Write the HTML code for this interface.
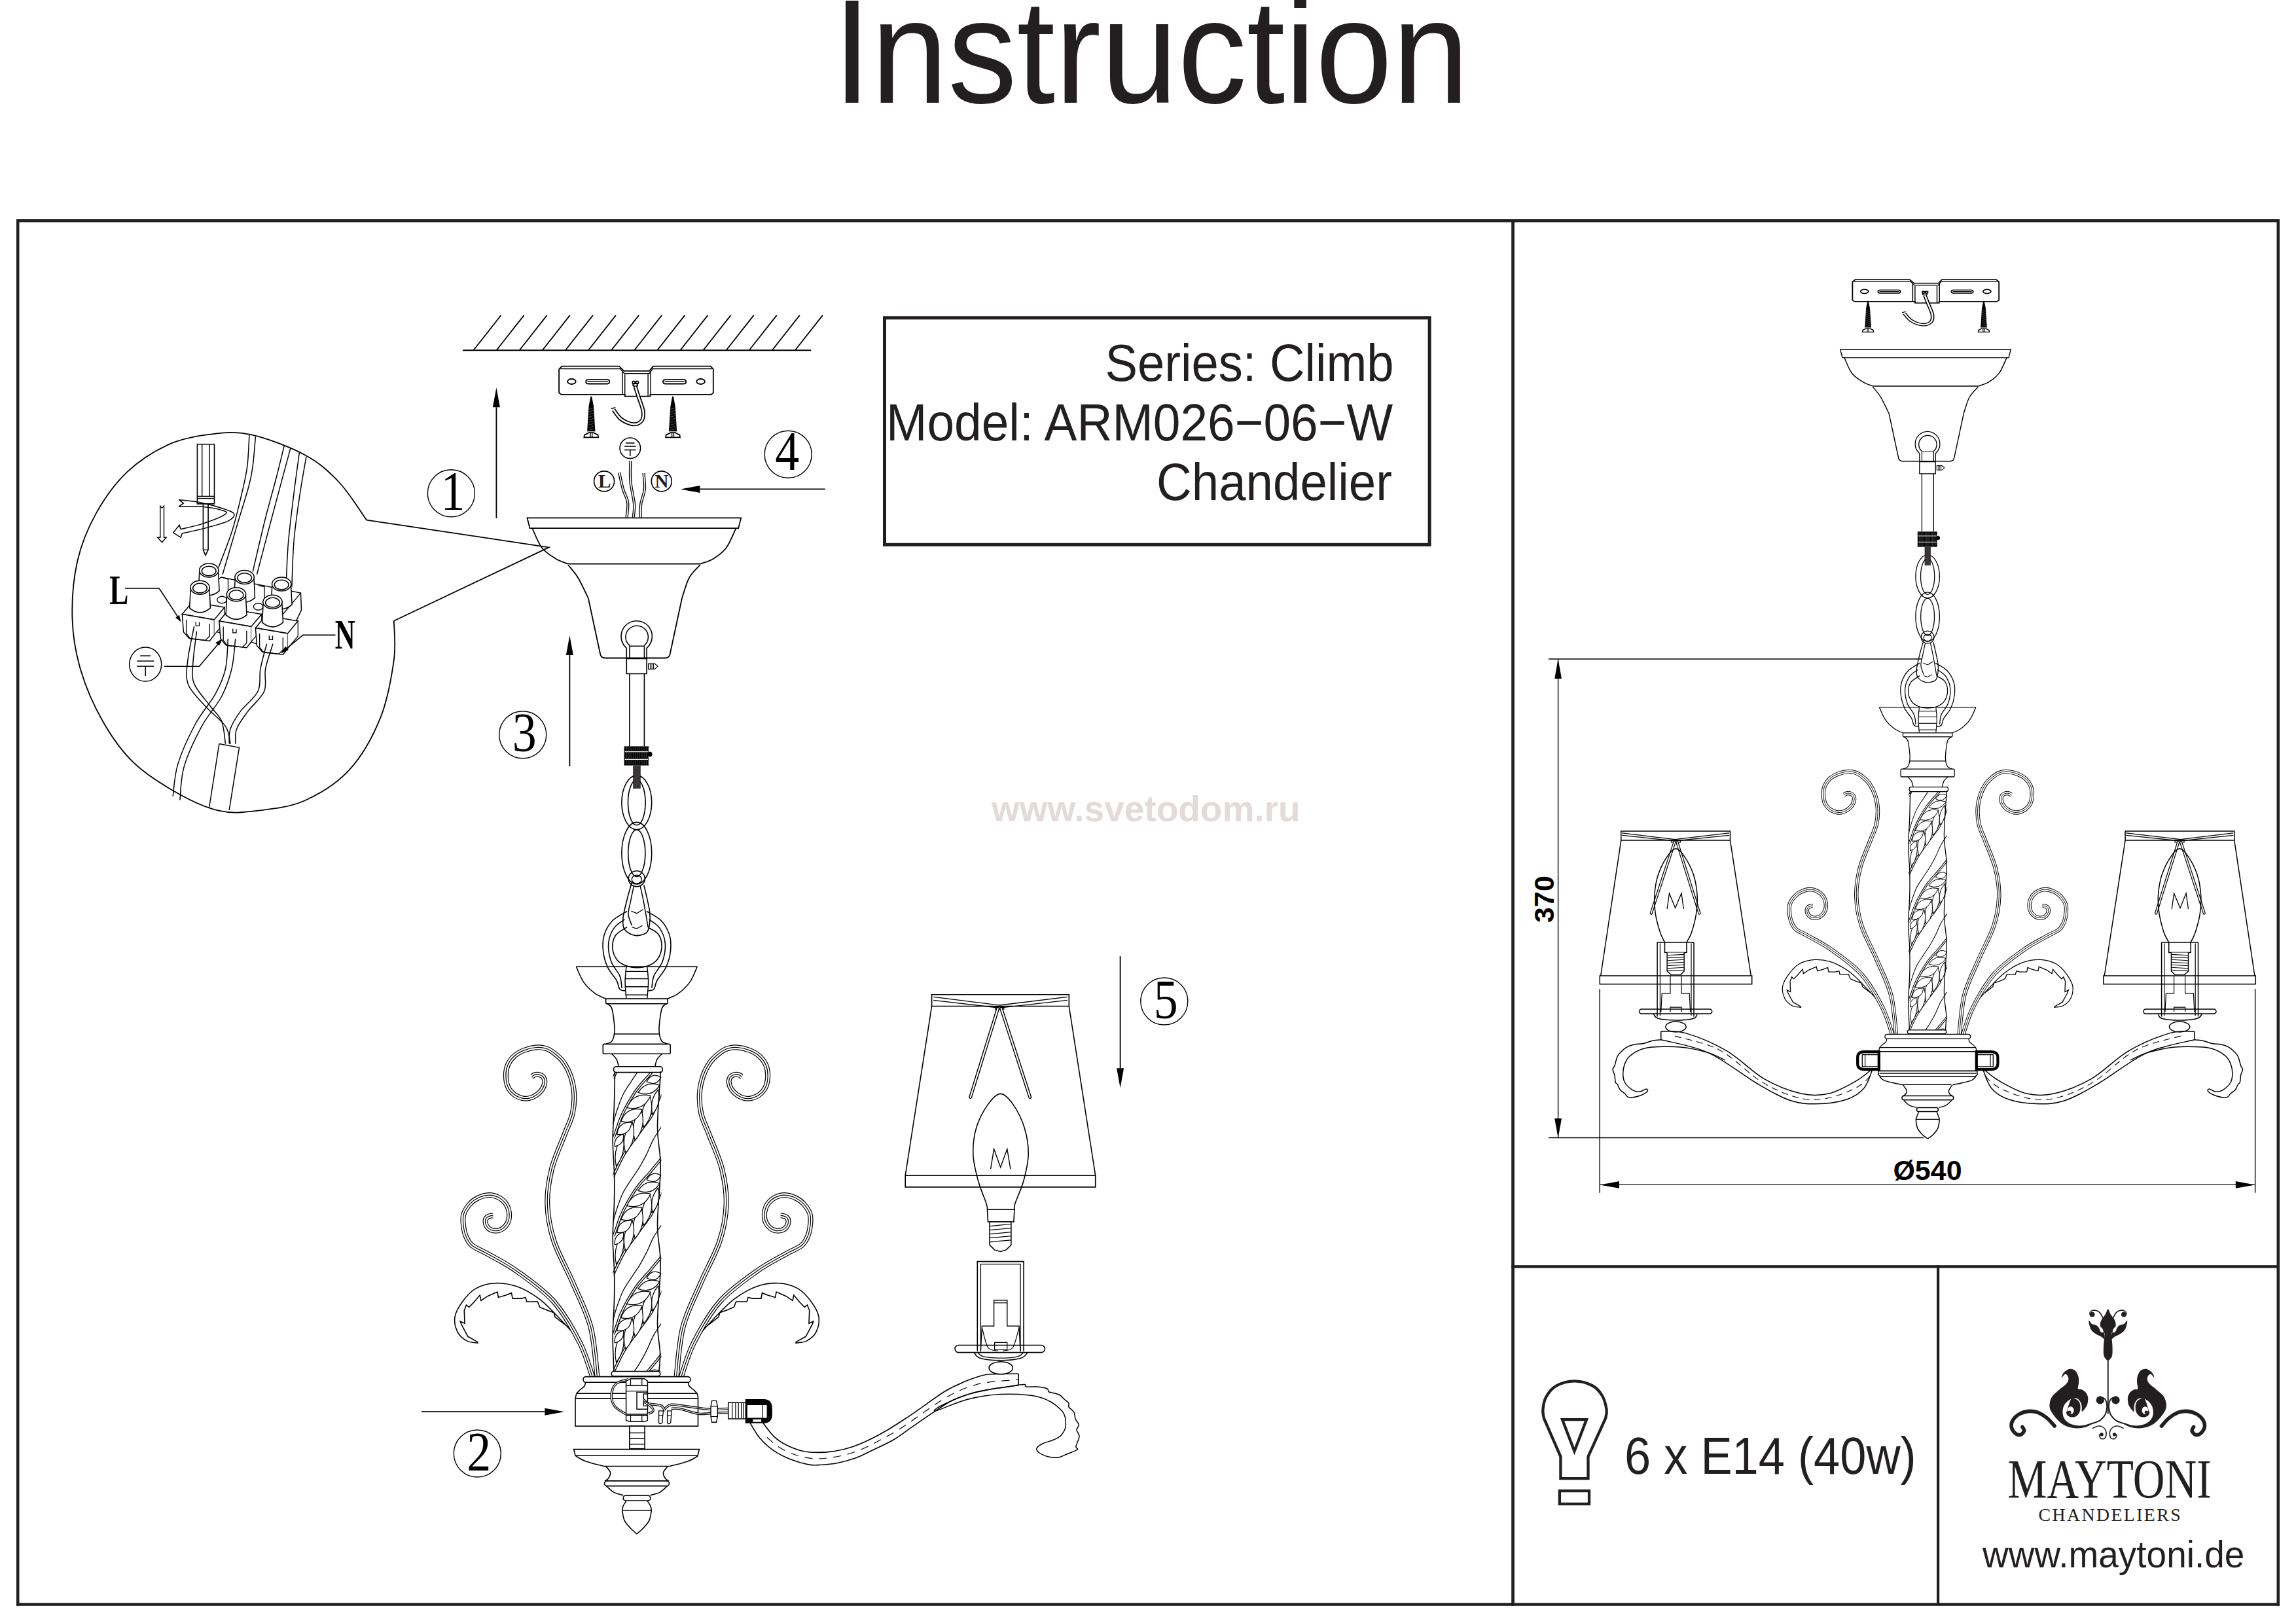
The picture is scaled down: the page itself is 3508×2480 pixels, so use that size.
<!DOCTYPE html>
<html><head><meta charset="utf-8">
<style>
html,body{margin:0;padding:0;background:#fff;}
body{width:3508px;height:2480px;overflow:hidden;position:relative;}
svg{position:absolute;left:0;top:0;display:block;}
text{font-family:"Liberation Sans",sans-serif;fill:#231f20;}
.sf{font-family:"Liberation Serif",serif;}
</style></head>
<body>
<svg width="3508" height="2480" viewBox="0 0 3508 2480">
<defs><g id="core"><path d="M805.5,791.4 L1132.2,791.4 L1128.2,807.1 L809.5,807.1Z" fill="#fff" stroke="#000" stroke-width="1.8" /><path d="M813.2,807.1 C815.7,812.1 821.9,829.2 827.9,837 C833.9,844.8 842.8,849.8 849.5,853.9 C856.2,858.0 864.9,860.3 868,861.6 L1069.7,861.6 " fill="none" stroke="#000" stroke-width="1.8" /><path d="M1069.7,861.6 C1073.0,860.3 1083.0,858.0 1089.7,853.9 C1096.4,849.8 1103.9,844.8 1109.7,837 C1115.5,829.2 1122.0,812.1 1124.5,807.1" fill="none" stroke="#000" stroke-width="1.8" /><path d="M868,863.2 C870.6,866.5 878.3,874.7 883.4,883.2 C888.5,891.7 896.2,908.9 898.8,914" fill="none" stroke="#000" stroke-width="1.8" /><path d="M898.8,914 L917.3,1000.2 Q918.8,1005.5 925,1005.5 L1015.8,1005.5 Q1022,1005.5 1023.5,1000.2 L1042,914" fill="none" stroke="#000" stroke-width="1.8" /><path d="M1042,914 C1043.8,908.9 1048.2,891.7 1052.8,883.2 C1057.4,874.7 1066.9,866.5 1069.7,863.2" fill="none" stroke="#000" stroke-width="1.8" /><path d="M957.3,1006.4 L957.3,990.4 A23.7,23.7 0 1 1 988.1,990.4 L988.1,1006.4" fill="none" stroke="#000" stroke-width="1.6"/><path d="M961.9,986.4 A17.2,17.2 0 1 1 984.4,986.4" fill="none" stroke="#000" stroke-width="1.6"/><path d="M961.9,1006.4 L961.9,987.3 L984.4,987.3 L984.4,1006.4" fill="none" stroke="#000" stroke-width="1.5" /><path d="M957.3,1006.4 L988.1,1006.4 L988.1,1029.5 L957.3,1029.5Z" fill="none" stroke="#000" stroke-width="1.6" /><path d="M990.6,1014.1 L1000.4,1014.1 L1005,1018.1 L1000.4,1022.4 L990.6,1022.4Z" fill="#fff" stroke="#000" stroke-width="1.3" /><line x1="993.6" y1="1014.1" x2="993.6" y2="1022.4" stroke="#000" stroke-width="1"/><line x1="996.1" y1="1014.1" x2="996.1" y2="1022.4" stroke="#000" stroke-width="1"/><line x1="998.6" y1="1014.1" x2="998.6" y2="1022.4" stroke="#000" stroke-width="1"/><path d="M961.9,1029.5 L961.9,1140.4" fill="none" stroke="#000" stroke-width="1.6" /><path d="M984.4,1029.5 L984.4,1140.4" fill="none" stroke="#000" stroke-width="1.6" /><rect x="953.6" y="1140.4" width="37.6" height="29.2" fill="#000"/><line x1="954.8" y1="1148.7" x2="989.9" y2="1148.7" stroke="#fff" stroke-width="1.2"/><line x1="954.8" y1="1160.4" x2="989.9" y2="1160.4" stroke="#fff" stroke-width="1.2"/><line x1="957.3" y1="1141.9" x2="957.3" y2="1168.4" stroke="#777" stroke-width="0.6"/><line x1="960.1" y1="1141.9" x2="960.1" y2="1168.4" stroke="#777" stroke-width="0.6"/><line x1="962.8" y1="1141.9" x2="962.8" y2="1168.4" stroke="#777" stroke-width="0.6"/><line x1="965.6" y1="1141.9" x2="965.6" y2="1168.4" stroke="#777" stroke-width="0.6"/><line x1="968.4" y1="1141.9" x2="968.4" y2="1168.4" stroke="#777" stroke-width="0.6"/><line x1="971.1" y1="1141.9" x2="971.1" y2="1168.4" stroke="#777" stroke-width="0.6"/><line x1="973.9" y1="1141.9" x2="973.9" y2="1168.4" stroke="#777" stroke-width="0.6"/><line x1="976.7" y1="1141.9" x2="976.7" y2="1168.4" stroke="#777" stroke-width="0.6"/><line x1="979.5" y1="1141.9" x2="979.5" y2="1168.4" stroke="#777" stroke-width="0.6"/><line x1="982.2" y1="1141.9" x2="982.2" y2="1168.4" stroke="#777" stroke-width="0.6"/><line x1="985" y1="1141.9" x2="985" y2="1168.4" stroke="#777" stroke-width="0.6"/><line x1="987.8" y1="1141.9" x2="987.8" y2="1168.4" stroke="#777" stroke-width="0.6"/><line x1="990.6" y1="1141.9" x2="990.6" y2="1168.4" stroke="#777" stroke-width="0.6"/><ellipse cx="993.2" cy="1152.5" rx="3" ry="3.5" fill="#000" stroke="#000" stroke-width="1" /><rect x="967.1" y="1169.6" width="11.7" height="35.4" fill="#3a3637"/><ellipse cx="972.8" cy="1226.3" rx="22.9233" ry="41.4099" fill="none" stroke="#000" stroke-width="1.6" /><ellipse cx="972.8" cy="1226.3" rx="13.3103" ry="34.5083" fill="none" stroke="#000" stroke-width="1.6" /><rect x="968.4" y="1180" width="9.36653" height="25" fill="#3a3637"/><ellipse cx="972.8" cy="1303.7" rx="22.9233" ry="47.3256" fill="none" stroke="#000" stroke-width="1.6" /><ellipse cx="972.8" cy="1303.7" rx="13.0638" ry="35.7407" fill="none" stroke="#000" stroke-width="1.6" /><ellipse cx="972.8" cy="1342.7" rx="12.5" ry="12" fill="none" stroke="#000" stroke-width="1.6" /><ellipse cx="972.8" cy="1343.7" rx="7.5" ry="6.5" fill="none" stroke="#000" stroke-width="1.4" /><path d="M958,1392.5 C954.3,1394.9 941.6,1400.7 935.8,1406.8 C930.0,1412.9 925.4,1421.2 923,1429 C920.6,1436.8 920.7,1445.4 921.6,1453.6 C922.5,1461.8 925.1,1470.8 928.5,1478.2 C931.9,1485.6 938.9,1492.5 942,1498 C945.1,1503.5 944.6,1508.8 946.9,1511.5 C949.2,1514.2 954.1,1513.6 955.6,1514" fill="none" stroke="#000" stroke-width="1.6" /><path d="M988,1392.5 C991.7,1394.9 1004.4,1400.7 1010.2,1406.8 C1016.0,1412.9 1020.6,1421.2 1023,1429 C1025.4,1436.8 1025.3,1445.4 1024.4,1453.6 C1023.5,1461.8 1020.9,1470.8 1017.5,1478.2 C1014.1,1485.6 1007.1,1492.5 1004,1498 C1000.9,1503.5 1001.4,1508.8 999.1,1511.5 C996.8,1514.2 991.9,1513.6 990.4,1514" fill="none" stroke="#000" stroke-width="1.6" /><path d="M954.3,1404.8 C951.6,1407.0 942.4,1411.8 938.3,1417.9 C934.2,1424.0 930.4,1432.7 929.7,1441.3 C929.0,1449.9 931.0,1461.3 933.9,1469.6 C936.8,1477.9 944.2,1484.4 946.9,1491.1 C949.6,1497.8 949.6,1506.7 950.1,1509.8" fill="none" stroke="#000" stroke-width="1.6" /><path d="M991.7,1404.8 C994.4,1407.0 1003.6,1411.8 1007.7,1417.9 C1011.8,1424.0 1015.6,1432.7 1016.3,1441.3 C1017.0,1449.9 1015.0,1461.3 1012.1,1469.6 C1009.2,1477.9 1001.8,1484.4 999.1,1491.1 C996.4,1497.8 996.4,1506.7 995.9,1509.8" fill="none" stroke="#000" stroke-width="1.6" /><path d="M958,1416.6 C955.1,1418.7 944.5,1423.7 940.8,1429 C937.1,1434.3 935.4,1442.3 935.8,1448.7 C936.2,1455.1 939.7,1462.7 943.2,1467.2 C946.7,1471.7 951.9,1473.9 956.8,1475.8 C961.7,1477.7 967.2,1478.7 972.8,1478.7 C978.3,1478.7 984.8,1477.9 990.1,1475.8 C995.4,1473.7 1000.9,1470.6 1004.4,1465.9 C1007.9,1461.2 1010.7,1453.8 1011,1447.4 C1011.3,1441.0 1009.6,1432.8 1006.1,1427.7 C1002.6,1422.7 992.8,1418.9 990.1,1417.1" fill="none" stroke="#000" stroke-width="1.6" /><path d="M965.4,1348.1 C964.2,1352.5 960.2,1365.5 958,1374.7 C955.8,1383.9 952.5,1395.5 951.9,1403.1 C951.3,1410.7 951.2,1415.9 954.3,1420.3 C957.4,1424.7 964.8,1428.6 970.4,1429.4 C976.0,1430.2 983.9,1428.2 987.6,1425.3 C991.3,1422.3 991.7,1417.2 992.5,1411.7 C993.3,1406.2 993.9,1401.9 992.5,1392 C991.1,1382.1 985.3,1359.1 983.9,1352.5" fill="none" stroke="#000" stroke-width="1.6" /><path d="M968.4,1353.8 C967.6,1357.7 964.9,1370.0 963.5,1377.2 C962.1,1384.4 959.7,1390.7 960,1396.9 C960.3,1403.1 964.5,1411.3 965.4,1414.2" fill="none" stroke="#000" stroke-width="1.5" /><path d="M978.2,1353.8 C979.0,1357.7 981.2,1366.7 983.2,1377.2 C985.2,1387.7 989.0,1410.0 990.1,1416.6" fill="none" stroke="#000" stroke-width="1.5" /><path d="M964.2,1392 L972.8,1395.7 L982.7,1389.5" fill="none" stroke="#000" stroke-width="1.3" /><path d="M965.4,1416.6 L972.8,1419.1 L981.4,1414.2" fill="none" stroke="#000" stroke-width="1.3" /><line x1="880.4" y1="1477" x2="1065.3" y2="1477" stroke="#000" stroke-width="1.6"/><path d="M880.4,1477 C882.2,1480.9 886.8,1493.6 891.5,1500.4 C896.2,1507.2 903.0,1513.4 908.7,1517.7 C914.5,1522.0 923.1,1524.9 926,1526.3" fill="none" stroke="#000" stroke-width="1.6" /><path d="M1065.3,1477 C1063.5,1480.9 1058.9,1493.6 1054.2,1500.4 C1049.5,1507.2 1042.7,1513.4 1036.9,1517.7 C1031.2,1522.0 1022.6,1524.9 1019.7,1526.3" fill="none" stroke="#000" stroke-width="1.6" /><path d="M956.8,1477.8 C956.5,1481.6 955.1,1492.5 955.1,1500.4 C955.1,1508.3 956.5,1521.0 956.8,1525.1" fill="none" stroke="#000" stroke-width="1.5" /><path d="M988.8,1477.8 C989.1,1481.6 990.6,1492.5 990.6,1500.4 C990.6,1508.3 989.1,1521.0 988.8,1525.1" fill="none" stroke="#000" stroke-width="1.5" /><line x1="955.6" y1="1484.4" x2="990.1" y2="1484.4" stroke="#000" stroke-width="1.4"/><line x1="955.6" y1="1495.5" x2="990.1" y2="1495.5" stroke="#000" stroke-width="1.4"/><line x1="955.6" y1="1507.8" x2="990.1" y2="1507.8" stroke="#000" stroke-width="1.4"/><line x1="955.6" y1="1520.2" x2="990.1" y2="1520.2" stroke="#000" stroke-width="1.4"/><path d="M889.5,2052.2 C882.9,2045.0 860.7,2020.3 849.6,2009 C838.5,1997.7 833.0,1991.3 823,1984.1 C813.0,1976.9 800.9,1969.7 789.8,1965.8 C778.7,1961.9 767.0,1960.2 756.5,1960.8 C746.0,1961.3 734.9,1964.4 726.6,1969.1 C718.3,1973.8 711.9,1981.8 706.6,1989 C701.3,1996.2 696.2,2004.5 695,2012.3 C693.8,2020.1 696.2,2029.5 699.3,2035.6 C702.3,2041.7 708.2,2046.1 713.3,2048.9 C718.4,2051.7 727.1,2051.6 729.9,2052.2 L729.9,2050.6 L714.9,2042.3 L705,2024 L703.3,2019 L710,2022.3 L709.3,2002.3 L712.6,1994 L716.6,1997.4 L723.3,1990.7 L733.2,1979.1 L734.9,1987.4 L744.9,1980.7 L759.8,1974.1 L761.5,1982.4 L773.1,1979.1 L781.5,1975.7 L783.1,1984.1 L796.4,1984.1 L803.1,1982.4 L804.7,1989 L821.4,1989 L824.7,1997.4 L836.3,2002.3 L846.3,2005.7 L848,2012.3 L869.6,2029 L889.5,2052.2" fill="#fff" stroke="#000" stroke-width="1.6" /><g transform="translate(1946,0) scale(-1,1)"><path d="M889.5,2052.2 C882.9,2045.0 860.7,2020.3 849.6,2009 C838.5,1997.7 833.0,1991.3 823,1984.1 C813.0,1976.9 800.9,1969.7 789.8,1965.8 C778.7,1961.9 767.0,1960.2 756.5,1960.8 C746.0,1961.3 734.9,1964.4 726.6,1969.1 C718.3,1973.8 711.9,1981.8 706.6,1989 C701.3,1996.2 696.2,2004.5 695,2012.3 C693.8,2020.1 696.2,2029.5 699.3,2035.6 C702.3,2041.7 708.2,2046.1 713.3,2048.9 C718.4,2051.7 727.1,2051.6 729.9,2052.2 L729.9,2050.6 L714.9,2042.3 L705,2024 L703.3,2019 L710,2022.3 L709.3,2002.3 L712.6,1994 L716.6,1997.4 L723.3,1990.7 L733.2,1979.1 L734.9,1987.4 L744.9,1980.7 L759.8,1974.1 L761.5,1982.4 L773.1,1979.1 L781.5,1975.7 L783.1,1984.1 L796.4,1984.1 L803.1,1982.4 L804.7,1989 L821.4,1989 L824.7,1997.4 L836.3,2002.3 L846.3,2005.7 L848,2012.3 L869.6,2029 L889.5,2052.2" fill="#fff" stroke="#000" stroke-width="1.6" /></g><path d="M906.2,2107.1 C902.9,2097.9 896.2,2071.9 886.2,2052.2 C876.2,2032.5 862.4,2007.3 846.3,1989 C830.2,1970.7 806.7,1954.7 789.8,1942.5 C772.9,1930.3 756.5,1922.6 745,1916 C733.5,1909.4 726.7,1907.7 721.1,1903 C715.5,1898.3 713.7,1893.5 711.5,1888 C709.3,1882.5 708.3,1875.5 707.8,1870 C707.3,1864.5 706.8,1860.1 708.5,1855 C710.2,1849.9 714.6,1843.5 718.3,1839.4 C722.0,1835.3 725.7,1832.7 730.5,1830.5 C735.3,1828.3 742.0,1826.3 747.1,1826.1 C752.2,1825.9 756.8,1827.4 761,1829.4 C765.2,1831.4 769.3,1834.7 772.1,1838.3 C774.9,1841.9 776.8,1846.7 777.6,1851.1 C778.4,1855.5 778.2,1860.9 777.1,1864.9 C776.0,1868.9 773.7,1872.3 771,1874.9 C768.3,1877.5 764.5,1879.7 761,1880.4 C757.5,1881.1 752.9,1880.5 749.9,1879.3 C746.9,1878.1 744.7,1875.6 743.3,1873.2 C741.9,1870.8 741.4,1867.1 741.6,1864.9 C741.8,1862.7 743.0,1861.1 744.4,1859.9 C745.8,1858.7 748.4,1858.1 749.9,1857.7 C751.4,1857.3 752.7,1857.7 753.2,1857.7" fill="none" stroke="#000" stroke-width="8" stroke-linejoin="round"/><path d="M906.2,2107.1 C902.9,2097.9 896.2,2071.9 886.2,2052.2 C876.2,2032.5 862.4,2007.3 846.3,1989 C830.2,1970.7 806.7,1954.7 789.8,1942.5 C772.9,1930.3 756.5,1922.6 745,1916 C733.5,1909.4 726.7,1907.7 721.1,1903 C715.5,1898.3 713.7,1893.5 711.5,1888 C709.3,1882.5 708.3,1875.5 707.8,1870 C707.3,1864.5 706.8,1860.1 708.5,1855 C710.2,1849.9 714.6,1843.5 718.3,1839.4 C722.0,1835.3 725.7,1832.7 730.5,1830.5 C735.3,1828.3 742.0,1826.3 747.1,1826.1 C752.2,1825.9 756.8,1827.4 761,1829.4 C765.2,1831.4 769.3,1834.7 772.1,1838.3 C774.9,1841.9 776.8,1846.7 777.6,1851.1 C778.4,1855.5 778.2,1860.9 777.1,1864.9 C776.0,1868.9 773.7,1872.3 771,1874.9 C768.3,1877.5 764.5,1879.7 761,1880.4 C757.5,1881.1 752.9,1880.5 749.9,1879.3 C746.9,1878.1 744.7,1875.6 743.3,1873.2 C741.9,1870.8 741.4,1867.1 741.6,1864.9 C741.8,1862.7 743.0,1861.1 744.4,1859.9 C745.8,1858.7 748.4,1858.1 749.9,1857.7 C751.4,1857.3 752.7,1857.7 753.2,1857.7" fill="none" stroke="#fff" stroke-width="5.6" stroke-linejoin="round"/><path d="M906.2,2107.1 C902.9,2097.9 896.2,2071.9 886.2,2052.2 C876.2,2032.5 862.4,2007.3 846.3,1989 C830.2,1970.7 806.7,1954.7 789.8,1942.5 C772.9,1930.3 756.5,1922.6 745,1916 C733.5,1909.4 726.7,1907.7 721.1,1903 C715.5,1898.3 713.7,1893.5 711.5,1888 C709.3,1882.5 708.3,1875.5 707.8,1870 C707.3,1864.5 706.8,1860.1 708.5,1855 C710.2,1849.9 714.6,1843.5 718.3,1839.4 C722.0,1835.3 725.7,1832.7 730.5,1830.5 C735.3,1828.3 742.0,1826.3 747.1,1826.1 C752.2,1825.9 756.8,1827.4 761,1829.4 C765.2,1831.4 769.3,1834.7 772.1,1838.3 C774.9,1841.9 776.8,1846.7 777.6,1851.1 C778.4,1855.5 778.2,1860.9 777.1,1864.9 C776.0,1868.9 773.7,1872.3 771,1874.9 C768.3,1877.5 764.5,1879.7 761,1880.4 C757.5,1881.1 752.9,1880.5 749.9,1879.3 C746.9,1878.1 744.7,1875.6 743.3,1873.2 C741.9,1870.8 741.4,1867.1 741.6,1864.9 C741.8,1862.7 743.0,1861.1 744.4,1859.9 C745.8,1858.7 748.4,1858.1 749.9,1857.7 C751.4,1857.3 752.7,1857.7 753.2,1857.7" fill="none" stroke="#000" stroke-width="1.2" stroke-linejoin="round"/><g transform="translate(1946,0) scale(-1,1)"><path d="M906.2,2107.1 C902.9,2097.9 896.2,2071.9 886.2,2052.2 C876.2,2032.5 862.4,2007.3 846.3,1989 C830.2,1970.7 806.7,1954.7 789.8,1942.5 C772.9,1930.3 756.5,1922.6 745,1916 C733.5,1909.4 726.7,1907.7 721.1,1903 C715.5,1898.3 713.7,1893.5 711.5,1888 C709.3,1882.5 708.3,1875.5 707.8,1870 C707.3,1864.5 706.8,1860.1 708.5,1855 C710.2,1849.9 714.6,1843.5 718.3,1839.4 C722.0,1835.3 725.7,1832.7 730.5,1830.5 C735.3,1828.3 742.0,1826.3 747.1,1826.1 C752.2,1825.9 756.8,1827.4 761,1829.4 C765.2,1831.4 769.3,1834.7 772.1,1838.3 C774.9,1841.9 776.8,1846.7 777.6,1851.1 C778.4,1855.5 778.2,1860.9 777.1,1864.9 C776.0,1868.9 773.7,1872.3 771,1874.9 C768.3,1877.5 764.5,1879.7 761,1880.4 C757.5,1881.1 752.9,1880.5 749.9,1879.3 C746.9,1878.1 744.7,1875.6 743.3,1873.2 C741.9,1870.8 741.4,1867.1 741.6,1864.9 C741.8,1862.7 743.0,1861.1 744.4,1859.9 C745.8,1858.7 748.4,1858.1 749.9,1857.7 C751.4,1857.3 752.7,1857.7 753.2,1857.7" fill="none" stroke="#000" stroke-width="8" stroke-linejoin="round"/><path d="M906.2,2107.1 C902.9,2097.9 896.2,2071.9 886.2,2052.2 C876.2,2032.5 862.4,2007.3 846.3,1989 C830.2,1970.7 806.7,1954.7 789.8,1942.5 C772.9,1930.3 756.5,1922.6 745,1916 C733.5,1909.4 726.7,1907.7 721.1,1903 C715.5,1898.3 713.7,1893.5 711.5,1888 C709.3,1882.5 708.3,1875.5 707.8,1870 C707.3,1864.5 706.8,1860.1 708.5,1855 C710.2,1849.9 714.6,1843.5 718.3,1839.4 C722.0,1835.3 725.7,1832.7 730.5,1830.5 C735.3,1828.3 742.0,1826.3 747.1,1826.1 C752.2,1825.9 756.8,1827.4 761,1829.4 C765.2,1831.4 769.3,1834.7 772.1,1838.3 C774.9,1841.9 776.8,1846.7 777.6,1851.1 C778.4,1855.5 778.2,1860.9 777.1,1864.9 C776.0,1868.9 773.7,1872.3 771,1874.9 C768.3,1877.5 764.5,1879.7 761,1880.4 C757.5,1881.1 752.9,1880.5 749.9,1879.3 C746.9,1878.1 744.7,1875.6 743.3,1873.2 C741.9,1870.8 741.4,1867.1 741.6,1864.9 C741.8,1862.7 743.0,1861.1 744.4,1859.9 C745.8,1858.7 748.4,1858.1 749.9,1857.7 C751.4,1857.3 752.7,1857.7 753.2,1857.7" fill="none" stroke="#fff" stroke-width="5.6" stroke-linejoin="round"/><path d="M906.2,2107.1 C902.9,2097.9 896.2,2071.9 886.2,2052.2 C876.2,2032.5 862.4,2007.3 846.3,1989 C830.2,1970.7 806.7,1954.7 789.8,1942.5 C772.9,1930.3 756.5,1922.6 745,1916 C733.5,1909.4 726.7,1907.7 721.1,1903 C715.5,1898.3 713.7,1893.5 711.5,1888 C709.3,1882.5 708.3,1875.5 707.8,1870 C707.3,1864.5 706.8,1860.1 708.5,1855 C710.2,1849.9 714.6,1843.5 718.3,1839.4 C722.0,1835.3 725.7,1832.7 730.5,1830.5 C735.3,1828.3 742.0,1826.3 747.1,1826.1 C752.2,1825.9 756.8,1827.4 761,1829.4 C765.2,1831.4 769.3,1834.7 772.1,1838.3 C774.9,1841.9 776.8,1846.7 777.6,1851.1 C778.4,1855.5 778.2,1860.9 777.1,1864.9 C776.0,1868.9 773.7,1872.3 771,1874.9 C768.3,1877.5 764.5,1879.7 761,1880.4 C757.5,1881.1 752.9,1880.5 749.9,1879.3 C746.9,1878.1 744.7,1875.6 743.3,1873.2 C741.9,1870.8 741.4,1867.1 741.6,1864.9 C741.8,1862.7 743.0,1861.1 744.4,1859.9 C745.8,1858.7 748.4,1858.1 749.9,1857.7 C751.4,1857.3 752.7,1857.7 753.2,1857.7" fill="none" stroke="#000" stroke-width="1.2" stroke-linejoin="round"/></g><path d="M912.8,2107.1 C911.1,2094.1 908.9,2053.1 902.8,2029 C896.7,2004.9 885.6,1984.6 876.2,1962.4 C866.8,1940.2 852.9,1916.5 846.3,1896 C839.6,1875.5 836.8,1857.7 836.3,1839.4 C835.8,1821.1 838.7,1803.6 843,1786.2 C847.3,1768.8 856.7,1749.0 862,1735 C867.3,1721.0 872.1,1712.6 874.6,1702 C877.1,1691.4 877.7,1680.9 877.2,1671.3 C876.7,1661.7 874.4,1652.1 871.8,1644.2 C869.2,1636.3 865.5,1629.6 861.6,1623.9 C857.7,1618.2 852.6,1613.9 848.1,1610.3 C843.6,1606.7 839.4,1603.8 834.5,1602.2 C829.6,1600.6 824.6,1600.0 819,1600.5 C813.4,1601.0 806.2,1602.7 800.7,1604.9 C795.2,1607.1 790.0,1609.9 785.8,1613.7 C781.6,1617.5 777.8,1622.8 775.6,1627.9 C773.5,1633.0 772.8,1638.7 772.9,1644.2 C773.0,1649.8 774.1,1656.5 776.3,1661.2 C778.4,1666.0 782.2,1669.9 785.8,1672.7 C789.4,1675.5 794.1,1677.2 797.9,1678.1 C801.7,1679.0 805.2,1678.9 808.8,1678.1 C812.4,1677.3 816.3,1675.6 819.6,1673.3 C822.9,1671.0 826.3,1667.7 828.4,1664.5 C830.5,1661.3 831.9,1657.5 832.2,1654.4 C832.6,1651.4 831.8,1648.2 830.5,1646.2 C829.2,1644.2 826.5,1642.9 824.4,1642.2 C822.2,1641.5 819.6,1641.7 817.6,1642.2 C815.6,1642.7 813.4,1644.5 812.5,1645" fill="none" stroke="#000" stroke-width="8" stroke-linejoin="round"/><path d="M912.8,2107.1 C911.1,2094.1 908.9,2053.1 902.8,2029 C896.7,2004.9 885.6,1984.6 876.2,1962.4 C866.8,1940.2 852.9,1916.5 846.3,1896 C839.6,1875.5 836.8,1857.7 836.3,1839.4 C835.8,1821.1 838.7,1803.6 843,1786.2 C847.3,1768.8 856.7,1749.0 862,1735 C867.3,1721.0 872.1,1712.6 874.6,1702 C877.1,1691.4 877.7,1680.9 877.2,1671.3 C876.7,1661.7 874.4,1652.1 871.8,1644.2 C869.2,1636.3 865.5,1629.6 861.6,1623.9 C857.7,1618.2 852.6,1613.9 848.1,1610.3 C843.6,1606.7 839.4,1603.8 834.5,1602.2 C829.6,1600.6 824.6,1600.0 819,1600.5 C813.4,1601.0 806.2,1602.7 800.7,1604.9 C795.2,1607.1 790.0,1609.9 785.8,1613.7 C781.6,1617.5 777.8,1622.8 775.6,1627.9 C773.5,1633.0 772.8,1638.7 772.9,1644.2 C773.0,1649.8 774.1,1656.5 776.3,1661.2 C778.4,1666.0 782.2,1669.9 785.8,1672.7 C789.4,1675.5 794.1,1677.2 797.9,1678.1 C801.7,1679.0 805.2,1678.9 808.8,1678.1 C812.4,1677.3 816.3,1675.6 819.6,1673.3 C822.9,1671.0 826.3,1667.7 828.4,1664.5 C830.5,1661.3 831.9,1657.5 832.2,1654.4 C832.6,1651.4 831.8,1648.2 830.5,1646.2 C829.2,1644.2 826.5,1642.9 824.4,1642.2 C822.2,1641.5 819.6,1641.7 817.6,1642.2 C815.6,1642.7 813.4,1644.5 812.5,1645" fill="none" stroke="#fff" stroke-width="5.6" stroke-linejoin="round"/><path d="M912.8,2107.1 C911.1,2094.1 908.9,2053.1 902.8,2029 C896.7,2004.9 885.6,1984.6 876.2,1962.4 C866.8,1940.2 852.9,1916.5 846.3,1896 C839.6,1875.5 836.8,1857.7 836.3,1839.4 C835.8,1821.1 838.7,1803.6 843,1786.2 C847.3,1768.8 856.7,1749.0 862,1735 C867.3,1721.0 872.1,1712.6 874.6,1702 C877.1,1691.4 877.7,1680.9 877.2,1671.3 C876.7,1661.7 874.4,1652.1 871.8,1644.2 C869.2,1636.3 865.5,1629.6 861.6,1623.9 C857.7,1618.2 852.6,1613.9 848.1,1610.3 C843.6,1606.7 839.4,1603.8 834.5,1602.2 C829.6,1600.6 824.6,1600.0 819,1600.5 C813.4,1601.0 806.2,1602.7 800.7,1604.9 C795.2,1607.1 790.0,1609.9 785.8,1613.7 C781.6,1617.5 777.8,1622.8 775.6,1627.9 C773.5,1633.0 772.8,1638.7 772.9,1644.2 C773.0,1649.8 774.1,1656.5 776.3,1661.2 C778.4,1666.0 782.2,1669.9 785.8,1672.7 C789.4,1675.5 794.1,1677.2 797.9,1678.1 C801.7,1679.0 805.2,1678.9 808.8,1678.1 C812.4,1677.3 816.3,1675.6 819.6,1673.3 C822.9,1671.0 826.3,1667.7 828.4,1664.5 C830.5,1661.3 831.9,1657.5 832.2,1654.4 C832.6,1651.4 831.8,1648.2 830.5,1646.2 C829.2,1644.2 826.5,1642.9 824.4,1642.2 C822.2,1641.5 819.6,1641.7 817.6,1642.2 C815.6,1642.7 813.4,1644.5 812.5,1645" fill="none" stroke="#000" stroke-width="1.2" stroke-linejoin="round"/><g transform="translate(1946,0) scale(-1,1)"><path d="M912.8,2107.1 C911.1,2094.1 908.9,2053.1 902.8,2029 C896.7,2004.9 885.6,1984.6 876.2,1962.4 C866.8,1940.2 852.9,1916.5 846.3,1896 C839.6,1875.5 836.8,1857.7 836.3,1839.4 C835.8,1821.1 838.7,1803.6 843,1786.2 C847.3,1768.8 856.7,1749.0 862,1735 C867.3,1721.0 872.1,1712.6 874.6,1702 C877.1,1691.4 877.7,1680.9 877.2,1671.3 C876.7,1661.7 874.4,1652.1 871.8,1644.2 C869.2,1636.3 865.5,1629.6 861.6,1623.9 C857.7,1618.2 852.6,1613.9 848.1,1610.3 C843.6,1606.7 839.4,1603.8 834.5,1602.2 C829.6,1600.6 824.6,1600.0 819,1600.5 C813.4,1601.0 806.2,1602.7 800.7,1604.9 C795.2,1607.1 790.0,1609.9 785.8,1613.7 C781.6,1617.5 777.8,1622.8 775.6,1627.9 C773.5,1633.0 772.8,1638.7 772.9,1644.2 C773.0,1649.8 774.1,1656.5 776.3,1661.2 C778.4,1666.0 782.2,1669.9 785.8,1672.7 C789.4,1675.5 794.1,1677.2 797.9,1678.1 C801.7,1679.0 805.2,1678.9 808.8,1678.1 C812.4,1677.3 816.3,1675.6 819.6,1673.3 C822.9,1671.0 826.3,1667.7 828.4,1664.5 C830.5,1661.3 831.9,1657.5 832.2,1654.4 C832.6,1651.4 831.8,1648.2 830.5,1646.2 C829.2,1644.2 826.5,1642.9 824.4,1642.2 C822.2,1641.5 819.6,1641.7 817.6,1642.2 C815.6,1642.7 813.4,1644.5 812.5,1645" fill="none" stroke="#000" stroke-width="8" stroke-linejoin="round"/><path d="M912.8,2107.1 C911.1,2094.1 908.9,2053.1 902.8,2029 C896.7,2004.9 885.6,1984.6 876.2,1962.4 C866.8,1940.2 852.9,1916.5 846.3,1896 C839.6,1875.5 836.8,1857.7 836.3,1839.4 C835.8,1821.1 838.7,1803.6 843,1786.2 C847.3,1768.8 856.7,1749.0 862,1735 C867.3,1721.0 872.1,1712.6 874.6,1702 C877.1,1691.4 877.7,1680.9 877.2,1671.3 C876.7,1661.7 874.4,1652.1 871.8,1644.2 C869.2,1636.3 865.5,1629.6 861.6,1623.9 C857.7,1618.2 852.6,1613.9 848.1,1610.3 C843.6,1606.7 839.4,1603.8 834.5,1602.2 C829.6,1600.6 824.6,1600.0 819,1600.5 C813.4,1601.0 806.2,1602.7 800.7,1604.9 C795.2,1607.1 790.0,1609.9 785.8,1613.7 C781.6,1617.5 777.8,1622.8 775.6,1627.9 C773.5,1633.0 772.8,1638.7 772.9,1644.2 C773.0,1649.8 774.1,1656.5 776.3,1661.2 C778.4,1666.0 782.2,1669.9 785.8,1672.7 C789.4,1675.5 794.1,1677.2 797.9,1678.1 C801.7,1679.0 805.2,1678.9 808.8,1678.1 C812.4,1677.3 816.3,1675.6 819.6,1673.3 C822.9,1671.0 826.3,1667.7 828.4,1664.5 C830.5,1661.3 831.9,1657.5 832.2,1654.4 C832.6,1651.4 831.8,1648.2 830.5,1646.2 C829.2,1644.2 826.5,1642.9 824.4,1642.2 C822.2,1641.5 819.6,1641.7 817.6,1642.2 C815.6,1642.7 813.4,1644.5 812.5,1645" fill="none" stroke="#fff" stroke-width="5.6" stroke-linejoin="round"/><path d="M912.8,2107.1 C911.1,2094.1 908.9,2053.1 902.8,2029 C896.7,2004.9 885.6,1984.6 876.2,1962.4 C866.8,1940.2 852.9,1916.5 846.3,1896 C839.6,1875.5 836.8,1857.7 836.3,1839.4 C835.8,1821.1 838.7,1803.6 843,1786.2 C847.3,1768.8 856.7,1749.0 862,1735 C867.3,1721.0 872.1,1712.6 874.6,1702 C877.1,1691.4 877.7,1680.9 877.2,1671.3 C876.7,1661.7 874.4,1652.1 871.8,1644.2 C869.2,1636.3 865.5,1629.6 861.6,1623.9 C857.7,1618.2 852.6,1613.9 848.1,1610.3 C843.6,1606.7 839.4,1603.8 834.5,1602.2 C829.6,1600.6 824.6,1600.0 819,1600.5 C813.4,1601.0 806.2,1602.7 800.7,1604.9 C795.2,1607.1 790.0,1609.9 785.8,1613.7 C781.6,1617.5 777.8,1622.8 775.6,1627.9 C773.5,1633.0 772.8,1638.7 772.9,1644.2 C773.0,1649.8 774.1,1656.5 776.3,1661.2 C778.4,1666.0 782.2,1669.9 785.8,1672.7 C789.4,1675.5 794.1,1677.2 797.9,1678.1 C801.7,1679.0 805.2,1678.9 808.8,1678.1 C812.4,1677.3 816.3,1675.6 819.6,1673.3 C822.9,1671.0 826.3,1667.7 828.4,1664.5 C830.5,1661.3 831.9,1657.5 832.2,1654.4 C832.6,1651.4 831.8,1648.2 830.5,1646.2 C829.2,1644.2 826.5,1642.9 824.4,1642.2 C822.2,1641.5 819.6,1641.7 817.6,1642.2 C815.6,1642.7 813.4,1644.5 812.5,1645" fill="none" stroke="#000" stroke-width="1.2" stroke-linejoin="round"/></g><rect x="925.6" y="1526.1" width="94.6" height="7.6" rx="1.5" fill="#fff" stroke="#000" stroke-width="1.6"/><path d="M927.2,1533.7 C928.4,1534.8 932.6,1535.0 934.5,1540.1 C936.4,1545.2 937.8,1557.4 938.5,1564.1 C939.2,1570.8 939.2,1575.6 938.5,1580.1 C937.8,1584.6 936.6,1588.8 934.5,1591.3 C932.4,1593.8 927.1,1594.7 925.6,1595.4" fill="none" stroke="#000" stroke-width="1.6" /><path d="M1018.8,1533.7 C1017.6,1534.8 1013.4,1535.0 1011.5,1540.1 C1009.6,1545.2 1008.2,1557.4 1007.5,1564.1 C1006.8,1570.8 1006.8,1575.6 1007.5,1580.1 C1008.2,1584.6 1009.4,1588.8 1011.5,1591.3 C1013.6,1593.8 1018.9,1594.7 1020.4,1595.4" fill="none" stroke="#000" stroke-width="1.6" /><line x1="938.5" y1="1580.1" x2="1007.4" y2="1580.1" stroke="#000" stroke-width="1.5"/><rect x="921.3" y="1595.4" width="102.9" height="14.9" rx="2" fill="#fff" stroke="#000" stroke-width="1.6"/><path d="M934.5,1610.3 C935.8,1611.7 940.2,1615.3 942,1618.6 C943.8,1621.8 944.7,1627.9 945.2,1629.8" fill="none" stroke="#000" stroke-width="1.6" /><path d="M1011.5,1610.3 C1010.2,1611.7 1005.8,1615.3 1004,1618.6 C1002.2,1621.8 1001.3,1627.9 1000.8,1629.8" fill="none" stroke="#000" stroke-width="1.6" /><rect x="937.7" y="1629.8" width="74.5" height="8.8" rx="3.5" fill="#fff" stroke="#000" stroke-width="1.6"/><clipPath id="colclip"><rect x="936.5" y="1638.6" width="74" height="456.9"/></clipPath><g clip-path="url(#colclip)"><path d="M1010,1468.6 C1008.8,1470.1 1005.7,1474.0 1002.6,1477.8 C999.5,1481.5 996.7,1485.0 991.5,1491.1 C986.3,1497.2 977.3,1506.5 971.6,1514.3 C965.9,1522.0 961.2,1530.4 957.1,1537.6 C953.0,1544.8 950.0,1551.1 947.2,1557.6 C944.4,1564.1 942.4,1571.2 940.5,1576.4 C938.6,1581.6 936.8,1586.6 936,1588.6" fill="none" stroke="#000" stroke-width="1.3" /><path d="M1012.3,1470.4 C1011.0,1471.9 1007.9,1475.8 1004.8,1479.6 C1001.7,1483.4 998.9,1486.9 993.7,1493 C988.6,1499.1 979.6,1508.3 973.9,1516 C968.2,1523.7 963.6,1531.9 959.6,1539 C955.6,1546.1 952.6,1552.3 949.9,1558.7 C947.2,1565.1 945.1,1572.2 943.2,1577.4 C941.3,1582.6 939.5,1587.6 938.7,1589.6" fill="none" stroke="#000" stroke-width="1.3" /><path d="M1011,1522.6 C1010.3,1524.2 1009.3,1526.6 1007,1532.1 C1004.7,1537.5 1001.1,1548.1 997,1555.3 C992.9,1562.5 987.6,1568.4 982.6,1575.3 C977.6,1582.2 971.9,1589.6 967.1,1596.4 C962.3,1603.2 957.7,1609.7 953.8,1616.3 C949.9,1622.9 946.4,1630.9 943.8,1636.3 C941.2,1641.7 939.0,1646.5 938,1648.6" fill="none" stroke="#000" stroke-width="1.3" /><path d="M1008.3,1521.5 C1007.6,1523.1 1006.6,1525.6 1004.3,1531 C1002.0,1536.4 998.5,1546.8 994.5,1553.9 C990.5,1561.0 985.3,1566.8 980.3,1573.6 C975.3,1580.4 969.5,1587.8 964.7,1594.7 C959.9,1601.6 955.2,1608.1 951.3,1614.8 C947.4,1621.5 943.9,1629.6 941.2,1635 C938.6,1640.4 936.4,1645.3 935.4,1647.4" fill="none" stroke="#000" stroke-width="1.3" /><path d="M1010,1572.6 C1008.0,1575.8 1001.7,1584.8 998,1591.6 C994.3,1598.4 991.5,1606.6 988,1613.6 C984.5,1620.6 980.8,1627.3 977,1633.6 C973.2,1639.9 969.2,1645.0 965,1651.6 C960.8,1658.2 955.5,1665.2 951.6,1673.2 C947.7,1681.2 944.0,1692.6 941.6,1699.8 C939.2,1707.0 937.8,1713.8 937,1716.6" fill="none" stroke="#000" stroke-width="1.3" /><path d="M997.0,1553.1 Q1011.0,1536.2 1005.5,1515.0 Q991.5,1531.9 997.0,1553.1 Z" fill="#fff" stroke="#000" stroke-width="1.25"/><path d="M983.7,1572.5 Q1001.7,1551.6 993.0,1525.4 Q975.0,1546.3 983.7,1572.5 Z" fill="#fff" stroke="#000" stroke-width="1.25"/><path d="M970.4,1592.5 Q988.3,1571.5 979.5,1545.4 Q961.6,1566.4 970.4,1592.5 Z" fill="#fff" stroke="#000" stroke-width="1.25"/><path d="M956.0,1611.9 Q974.3,1590.8 966.0,1564.2 Q947.7,1585.3 956.0,1611.9 Z" fill="#fff" stroke="#000" stroke-width="1.25"/><path d="M941.6,1631.8 Q957.4,1610.9 951.6,1585.3 Q935.8,1606.2 941.6,1631.8 Z" fill="#fff" stroke="#000" stroke-width="1.25"/><path d="M988.2,1502.7 Q1002.6,1510.8 1010.0,1496.0 Q995.6,1487.9 988.2,1502.7 Z" fill="#fff" stroke="#000" stroke-width="1.25"/><path d="M974.9,1519.3 Q995.9,1527.1 1008.0,1508.3 Q987.0,1500.5 974.9,1519.3 Z" fill="#fff" stroke="#000" stroke-width="1.25"/><path d="M957.7,1542.6 Q983.3,1548.3 994.0,1524.3 Q968.4,1518.6 957.7,1542.6 Z" fill="#fff" stroke="#000" stroke-width="1.25"/><path d="M948.8,1563.7 Q972.8,1568.5 981.0,1545.4 Q957.0,1540.6 948.8,1563.7 Z" fill="#fff" stroke="#000" stroke-width="1.25"/><path d="M942.7,1583.6 Q962.7,1585.3 965.0,1565.3 Q945.0,1563.6 942.7,1583.6 Z" fill="#fff" stroke="#000" stroke-width="1.25"/><path d="M939.4,1601.9 Q954.2,1598.2 952.5,1583.1 Q937.7,1586.8 939.4,1601.9 Z" fill="#fff" stroke="#000" stroke-width="1.25"/><path d="M1010,1618.6 C1008.8,1620.1 1005.7,1624.0 1002.6,1627.8 C999.5,1631.5 996.7,1635.0 991.5,1641.1 C986.3,1647.2 977.3,1656.5 971.6,1664.3 C965.9,1672.0 961.2,1680.4 957.1,1687.6 C953.0,1694.8 950.0,1701.1 947.2,1707.6 C944.4,1714.1 942.4,1721.2 940.5,1726.4 C938.6,1731.6 936.8,1736.6 936,1738.6" fill="none" stroke="#000" stroke-width="1.3" /><path d="M1012.3,1620.4 C1011.0,1621.9 1007.9,1625.8 1004.8,1629.6 C1001.7,1633.4 998.9,1636.9 993.7,1643 C988.6,1649.1 979.6,1658.3 973.9,1666 C968.2,1673.7 963.6,1681.9 959.6,1689 C955.6,1696.1 952.6,1702.3 949.9,1708.7 C947.2,1715.1 945.1,1722.2 943.2,1727.4 C941.3,1732.6 939.5,1737.6 938.7,1739.6" fill="none" stroke="#000" stroke-width="1.3" /><path d="M1011,1672.6 C1010.3,1674.2 1009.3,1676.6 1007,1682.1 C1004.7,1687.5 1001.1,1698.1 997,1705.3 C992.9,1712.5 987.6,1718.4 982.6,1725.3 C977.6,1732.2 971.9,1739.6 967.1,1746.4 C962.3,1753.2 957.7,1759.7 953.8,1766.3 C949.9,1772.9 946.4,1780.9 943.8,1786.3 C941.2,1791.7 939.0,1796.5 938,1798.6" fill="none" stroke="#000" stroke-width="1.3" /><path d="M1008.3,1671.5 C1007.6,1673.1 1006.6,1675.6 1004.3,1681 C1002.0,1686.4 998.5,1696.8 994.5,1703.9 C990.5,1711.0 985.3,1716.8 980.3,1723.6 C975.3,1730.4 969.5,1737.8 964.7,1744.7 C959.9,1751.6 955.2,1758.1 951.3,1764.8 C947.4,1771.5 943.9,1779.6 941.2,1785 C938.6,1790.4 936.4,1795.3 935.4,1797.4" fill="none" stroke="#000" stroke-width="1.3" /><path d="M1010,1722.6 C1008.0,1725.8 1001.7,1734.8 998,1741.6 C994.3,1748.4 991.5,1756.6 988,1763.6 C984.5,1770.6 980.8,1777.3 977,1783.6 C973.2,1789.9 969.2,1795.0 965,1801.6 C960.8,1808.2 955.5,1815.2 951.6,1823.2 C947.7,1831.2 944.0,1842.6 941.6,1849.8 C939.2,1857.0 937.8,1863.8 937,1866.6" fill="none" stroke="#000" stroke-width="1.3" /><path d="M997.0,1703.1 Q1011.0,1686.2 1005.5,1665.0 Q991.5,1681.9 997.0,1703.1 Z" fill="#fff" stroke="#000" stroke-width="1.25"/><path d="M983.7,1722.5 Q1001.7,1701.6 993.0,1675.4 Q975.0,1696.3 983.7,1722.5 Z" fill="#fff" stroke="#000" stroke-width="1.25"/><path d="M970.4,1742.5 Q988.3,1721.5 979.5,1695.4 Q961.6,1716.4 970.4,1742.5 Z" fill="#fff" stroke="#000" stroke-width="1.25"/><path d="M956.0,1761.9 Q974.3,1740.8 966.0,1714.2 Q947.7,1735.3 956.0,1761.9 Z" fill="#fff" stroke="#000" stroke-width="1.25"/><path d="M941.6,1781.8 Q957.4,1760.9 951.6,1735.3 Q935.8,1756.2 941.6,1781.8 Z" fill="#fff" stroke="#000" stroke-width="1.25"/><path d="M988.2,1652.7 Q1002.6,1660.8 1010.0,1646.0 Q995.6,1637.9 988.2,1652.7 Z" fill="#fff" stroke="#000" stroke-width="1.25"/><path d="M974.9,1669.3 Q995.9,1677.1 1008.0,1658.3 Q987.0,1650.5 974.9,1669.3 Z" fill="#fff" stroke="#000" stroke-width="1.25"/><path d="M957.7,1692.6 Q983.3,1698.3 994.0,1674.3 Q968.4,1668.6 957.7,1692.6 Z" fill="#fff" stroke="#000" stroke-width="1.25"/><path d="M948.8,1713.7 Q972.8,1718.5 981.0,1695.4 Q957.0,1690.6 948.8,1713.7 Z" fill="#fff" stroke="#000" stroke-width="1.25"/><path d="M942.7,1733.6 Q962.7,1735.3 965.0,1715.3 Q945.0,1713.6 942.7,1733.6 Z" fill="#fff" stroke="#000" stroke-width="1.25"/><path d="M939.4,1751.9 Q954.2,1748.2 952.5,1733.1 Q937.7,1736.8 939.4,1751.9 Z" fill="#fff" stroke="#000" stroke-width="1.25"/><path d="M1010,1768.6 C1008.8,1770.1 1005.7,1774.0 1002.6,1777.8 C999.5,1781.5 996.7,1785.0 991.5,1791.1 C986.3,1797.2 977.3,1806.5 971.6,1814.3 C965.9,1822.0 961.2,1830.4 957.1,1837.6 C953.0,1844.8 950.0,1851.1 947.2,1857.6 C944.4,1864.1 942.4,1871.2 940.5,1876.4 C938.6,1881.6 936.8,1886.6 936,1888.6" fill="none" stroke="#000" stroke-width="1.3" /><path d="M1012.3,1770.4 C1011.0,1771.9 1007.9,1775.8 1004.8,1779.6 C1001.7,1783.4 998.9,1786.9 993.7,1793 C988.6,1799.1 979.6,1808.3 973.9,1816 C968.2,1823.7 963.6,1831.9 959.6,1839 C955.6,1846.1 952.6,1852.3 949.9,1858.7 C947.2,1865.1 945.1,1872.2 943.2,1877.4 C941.3,1882.6 939.5,1887.6 938.7,1889.6" fill="none" stroke="#000" stroke-width="1.3" /><path d="M1011,1822.6 C1010.3,1824.2 1009.3,1826.6 1007,1832.1 C1004.7,1837.5 1001.1,1848.1 997,1855.3 C992.9,1862.5 987.6,1868.4 982.6,1875.3 C977.6,1882.2 971.9,1889.6 967.1,1896.4 C962.3,1903.2 957.7,1909.7 953.8,1916.3 C949.9,1922.9 946.4,1930.9 943.8,1936.3 C941.2,1941.7 939.0,1946.5 938,1948.6" fill="none" stroke="#000" stroke-width="1.3" /><path d="M1008.3,1821.5 C1007.6,1823.1 1006.6,1825.6 1004.3,1831 C1002.0,1836.4 998.5,1846.8 994.5,1853.9 C990.5,1861.0 985.3,1866.8 980.3,1873.6 C975.3,1880.4 969.5,1887.8 964.7,1894.7 C959.9,1901.6 955.2,1908.1 951.3,1914.8 C947.4,1921.5 943.9,1929.6 941.2,1935 C938.6,1940.4 936.4,1945.3 935.4,1947.4" fill="none" stroke="#000" stroke-width="1.3" /><path d="M1010,1872.6 C1008.0,1875.8 1001.7,1884.8 998,1891.6 C994.3,1898.4 991.5,1906.6 988,1913.6 C984.5,1920.6 980.8,1927.3 977,1933.6 C973.2,1939.9 969.2,1945.0 965,1951.6 C960.8,1958.2 955.5,1965.2 951.6,1973.2 C947.7,1981.2 944.0,1992.6 941.6,1999.8 C939.2,2007.0 937.8,2013.8 937,2016.6" fill="none" stroke="#000" stroke-width="1.3" /><path d="M997.0,1853.1 Q1011.0,1836.2 1005.5,1815.0 Q991.5,1831.9 997.0,1853.1 Z" fill="#fff" stroke="#000" stroke-width="1.25"/><path d="M983.7,1872.5 Q1001.7,1851.6 993.0,1825.4 Q975.0,1846.3 983.7,1872.5 Z" fill="#fff" stroke="#000" stroke-width="1.25"/><path d="M970.4,1892.5 Q988.3,1871.5 979.5,1845.4 Q961.6,1866.4 970.4,1892.5 Z" fill="#fff" stroke="#000" stroke-width="1.25"/><path d="M956.0,1911.9 Q974.3,1890.8 966.0,1864.2 Q947.7,1885.3 956.0,1911.9 Z" fill="#fff" stroke="#000" stroke-width="1.25"/><path d="M941.6,1931.8 Q957.4,1910.9 951.6,1885.3 Q935.8,1906.2 941.6,1931.8 Z" fill="#fff" stroke="#000" stroke-width="1.25"/><path d="M988.2,1802.7 Q1002.6,1810.8 1010.0,1796.0 Q995.6,1787.9 988.2,1802.7 Z" fill="#fff" stroke="#000" stroke-width="1.25"/><path d="M974.9,1819.3 Q995.9,1827.1 1008.0,1808.3 Q987.0,1800.5 974.9,1819.3 Z" fill="#fff" stroke="#000" stroke-width="1.25"/><path d="M957.7,1842.6 Q983.3,1848.3 994.0,1824.3 Q968.4,1818.6 957.7,1842.6 Z" fill="#fff" stroke="#000" stroke-width="1.25"/><path d="M948.8,1863.7 Q972.8,1868.5 981.0,1845.4 Q957.0,1840.6 948.8,1863.7 Z" fill="#fff" stroke="#000" stroke-width="1.25"/><path d="M942.7,1883.6 Q962.7,1885.3 965.0,1865.3 Q945.0,1863.6 942.7,1883.6 Z" fill="#fff" stroke="#000" stroke-width="1.25"/><path d="M939.4,1901.9 Q954.2,1898.2 952.5,1883.1 Q937.7,1886.8 939.4,1901.9 Z" fill="#fff" stroke="#000" stroke-width="1.25"/><path d="M1010,1918.6 C1008.8,1920.1 1005.7,1924.0 1002.6,1927.8 C999.5,1931.5 996.7,1935.0 991.5,1941.1 C986.3,1947.2 977.3,1956.5 971.6,1964.3 C965.9,1972.0 961.2,1980.4 957.1,1987.6 C953.0,1994.8 950.0,2001.1 947.2,2007.6 C944.4,2014.1 942.4,2021.2 940.5,2026.4 C938.6,2031.6 936.8,2036.6 936,2038.6" fill="none" stroke="#000" stroke-width="1.3" /><path d="M1012.3,1920.4 C1011.0,1921.9 1007.9,1925.8 1004.8,1929.6 C1001.7,1933.4 998.9,1936.9 993.7,1943 C988.6,1949.1 979.6,1958.3 973.9,1966 C968.2,1973.7 963.6,1981.9 959.6,1989 C955.6,1996.1 952.6,2002.3 949.9,2008.7 C947.2,2015.1 945.1,2022.2 943.2,2027.4 C941.3,2032.6 939.5,2037.6 938.7,2039.6" fill="none" stroke="#000" stroke-width="1.3" /><path d="M1011,1972.6 C1010.3,1974.2 1009.3,1976.6 1007,1982.1 C1004.7,1987.5 1001.1,1998.1 997,2005.3 C992.9,2012.5 987.6,2018.4 982.6,2025.3 C977.6,2032.2 971.9,2039.6 967.1,2046.4 C962.3,2053.2 957.7,2059.7 953.8,2066.3 C949.9,2073.0 946.4,2080.9 943.8,2086.3 C941.2,2091.7 939.0,2096.6 938,2098.6" fill="none" stroke="#000" stroke-width="1.3" /><path d="M1008.3,1971.5 C1007.6,1973.1 1006.6,1975.6 1004.3,1981 C1002.0,1986.4 998.5,1996.8 994.5,2003.9 C990.5,2011.0 985.3,2016.8 980.3,2023.6 C975.3,2030.4 969.5,2037.8 964.7,2044.7 C959.9,2051.6 955.2,2058.1 951.3,2064.8 C947.4,2071.5 943.9,2079.6 941.2,2085 C938.6,2090.4 936.4,2095.3 935.4,2097.4" fill="none" stroke="#000" stroke-width="1.3" /><path d="M1010,2022.6 C1008.0,2025.8 1001.7,2034.8 998,2041.6 C994.3,2048.4 991.5,2056.6 988,2063.6 C984.5,2070.6 980.8,2077.3 977,2083.6 C973.2,2089.9 969.2,2095.0 965,2101.6 C960.8,2108.2 955.5,2115.2 951.6,2123.2 C947.7,2131.2 944.0,2142.6 941.6,2149.8 C939.2,2157.0 937.8,2163.8 937,2166.6" fill="none" stroke="#000" stroke-width="1.3" /><path d="M997.0,2003.1 Q1011.0,1986.2 1005.5,1965.0 Q991.5,1981.9 997.0,2003.1 Z" fill="#fff" stroke="#000" stroke-width="1.25"/><path d="M983.7,2022.5 Q1001.7,2001.6 993.0,1975.4 Q975.0,1996.3 983.7,2022.5 Z" fill="#fff" stroke="#000" stroke-width="1.25"/><path d="M970.4,2042.5 Q988.3,2021.5 979.5,1995.4 Q961.6,2016.4 970.4,2042.5 Z" fill="#fff" stroke="#000" stroke-width="1.25"/><path d="M956.0,2061.9 Q974.3,2040.8 966.0,2014.2 Q947.7,2035.3 956.0,2061.9 Z" fill="#fff" stroke="#000" stroke-width="1.25"/><path d="M941.6,2081.8 Q957.4,2060.9 951.6,2035.3 Q935.8,2056.2 941.6,2081.8 Z" fill="#fff" stroke="#000" stroke-width="1.25"/><path d="M988.2,1952.7 Q1002.6,1960.8 1010.0,1946.0 Q995.6,1937.9 988.2,1952.7 Z" fill="#fff" stroke="#000" stroke-width="1.25"/><path d="M974.9,1969.3 Q995.9,1977.1 1008.0,1958.3 Q987.0,1950.5 974.9,1969.3 Z" fill="#fff" stroke="#000" stroke-width="1.25"/><path d="M957.7,1992.6 Q983.3,1998.3 994.0,1974.3 Q968.4,1968.6 957.7,1992.6 Z" fill="#fff" stroke="#000" stroke-width="1.25"/><path d="M948.8,2013.7 Q972.8,2018.5 981.0,1995.4 Q957.0,1990.6 948.8,2013.7 Z" fill="#fff" stroke="#000" stroke-width="1.25"/><path d="M942.7,2033.6 Q962.7,2035.3 965.0,2015.3 Q945.0,2013.6 942.7,2033.6 Z" fill="#fff" stroke="#000" stroke-width="1.25"/><path d="M939.4,2051.9 Q954.2,2048.2 952.5,2033.1 Q937.7,2036.8 939.4,2051.9 Z" fill="#fff" stroke="#000" stroke-width="1.25"/><path d="M1010,2068.6 C1008.8,2070.1 1005.7,2074.1 1002.6,2077.8 C999.5,2081.6 996.7,2085.0 991.5,2091.1 C986.3,2097.2 977.3,2106.6 971.6,2114.3 C965.9,2122.1 961.2,2130.4 957.1,2137.6 C953.0,2144.8 950.0,2151.1 947.2,2157.6 C944.4,2164.1 942.4,2171.2 940.5,2176.4 C938.6,2181.6 936.8,2186.6 936,2188.6" fill="none" stroke="#000" stroke-width="1.3" /><path d="M1012.3,2070.4 C1011.0,2071.9 1007.9,2075.8 1004.8,2079.6 C1001.7,2083.4 998.9,2086.9 993.7,2093 C988.6,2099.1 979.6,2108.3 973.9,2116 C968.2,2123.7 963.6,2131.9 959.6,2139 C955.6,2146.1 952.6,2152.3 949.9,2158.7 C947.2,2165.1 945.1,2172.2 943.2,2177.4 C941.3,2182.6 939.5,2187.6 938.7,2189.6" fill="none" stroke="#000" stroke-width="1.3" /><path d="M1011,2122.6 C1010.3,2124.2 1009.3,2126.6 1007,2132.1 C1004.7,2137.6 1001.1,2148.1 997,2155.3 C992.9,2162.5 987.6,2168.5 982.6,2175.3 C977.6,2182.2 971.9,2189.6 967.1,2196.4 C962.3,2203.2 957.7,2209.7 953.8,2216.3 C949.9,2223.0 946.4,2230.9 943.8,2236.3 C941.2,2241.7 939.0,2246.6 938,2248.6" fill="none" stroke="#000" stroke-width="1.3" /><path d="M1008.3,2121.5 C1007.6,2123.1 1006.6,2125.6 1004.3,2131 C1002.0,2136.4 998.5,2146.8 994.5,2153.9 C990.5,2161.0 985.3,2166.8 980.3,2173.6 C975.3,2180.4 969.5,2187.8 964.7,2194.7 C959.9,2201.6 955.2,2208.1 951.3,2214.8 C947.4,2221.5 943.9,2229.6 941.2,2235 C938.6,2240.4 936.4,2245.3 935.4,2247.4" fill="none" stroke="#000" stroke-width="1.3" /><path d="M1010,2172.6 C1008.0,2175.8 1001.7,2184.8 998,2191.6 C994.3,2198.4 991.5,2206.6 988,2213.6 C984.5,2220.6 980.8,2227.3 977,2233.6 C973.2,2239.9 969.2,2245.0 965,2251.6 C960.8,2258.2 955.5,2265.2 951.6,2273.2 C947.7,2281.2 944.0,2292.6 941.6,2299.8 C939.2,2307.0 937.8,2313.8 937,2316.6" fill="none" stroke="#000" stroke-width="1.3" /><path d="M997.0,2153.1 Q1011.0,2136.2 1005.5,2115.0 Q991.5,2131.9 997.0,2153.1 Z" fill="#fff" stroke="#000" stroke-width="1.25"/><path d="M983.7,2172.5 Q1001.7,2151.6 993.0,2125.4 Q975.0,2146.3 983.7,2172.5 Z" fill="#fff" stroke="#000" stroke-width="1.25"/><path d="M970.4,2192.5 Q988.3,2171.5 979.5,2145.4 Q961.6,2166.4 970.4,2192.5 Z" fill="#fff" stroke="#000" stroke-width="1.25"/><path d="M956.0,2211.9 Q974.3,2190.8 966.0,2164.2 Q947.7,2185.3 956.0,2211.9 Z" fill="#fff" stroke="#000" stroke-width="1.25"/><path d="M941.6,2231.8 Q957.4,2210.9 951.6,2185.3 Q935.8,2206.2 941.6,2231.8 Z" fill="#fff" stroke="#000" stroke-width="1.25"/><path d="M988.2,2102.7 Q1002.6,2110.8 1010.0,2096.0 Q995.6,2087.9 988.2,2102.7 Z" fill="#fff" stroke="#000" stroke-width="1.25"/><path d="M974.9,2119.3 Q995.9,2127.1 1008.0,2108.3 Q987.0,2100.5 974.9,2119.3 Z" fill="#fff" stroke="#000" stroke-width="1.25"/><path d="M957.7,2142.6 Q983.3,2148.3 994.0,2124.3 Q968.4,2118.6 957.7,2142.6 Z" fill="#fff" stroke="#000" stroke-width="1.25"/><path d="M948.8,2163.7 Q972.8,2168.5 981.0,2145.4 Q957.0,2140.6 948.8,2163.7 Z" fill="#fff" stroke="#000" stroke-width="1.25"/><path d="M942.7,2183.6 Q962.7,2185.3 965.0,2165.3 Q945.0,2163.6 942.7,2183.6 Z" fill="#fff" stroke="#000" stroke-width="1.25"/><path d="M939.4,2201.9 Q954.2,2198.2 952.5,2183.1 Q937.7,2186.8 939.4,2201.9 Z" fill="#fff" stroke="#000" stroke-width="1.25"/></g><path d="M939.5,1638.6 C939.3,1646.6 939.0,1669.4 938.5,1686.6 C938.0,1703.8 936.2,1724.1 936.2,1741.6 C936.2,1759.1 938.1,1775.8 938.5,1791.6 C938.9,1807.4 938.9,1819.9 938.5,1836.6 C938.1,1853.3 936.2,1874.1 936.2,1891.6 C936.2,1909.1 938.1,1925.8 938.5,1941.6 C938.9,1957.4 938.9,1969.9 938.5,1986.6 C938.1,2003.3 936.3,2023.4 936.2,2041.6 C936.1,2059.8 937.7,2086.5 938,2095.5" fill="none" stroke="#000" stroke-width="1.6" /><path d="M1008.5,1638.6 C1008.5,1639.9 1009.5,1632.8 1008.8,1646.6 C1008.1,1660.4 1004.5,1701.6 1004.5,1721.6 C1004.5,1741.6 1007.8,1754.1 1008.5,1766.6 C1009.2,1779.1 1009.5,1779.1 1008.8,1796.6 C1008.1,1814.1 1004.5,1851.6 1004.5,1871.6 C1004.5,1891.6 1007.8,1904.1 1008.5,1916.6 C1009.2,1929.1 1009.5,1929.1 1008.8,1946.6 C1008.1,1964.1 1004.5,2001.6 1004.5,2021.6 C1004.5,2041.6 1008.1,2054.3 1008.5,2066.6 C1008.9,2078.9 1007.2,2090.7 1007,2095.5" fill="none" stroke="#000" stroke-width="1.6" /><rect x="934.2" y="2095.5" width="74.5" height="7.3" rx="3.5" fill="#fff" stroke="#000" stroke-width="1.6"/><rect x="891.1" y="2103.6" width="163.8" height="8.7" rx="4" fill="#fff" stroke="#000" stroke-width="1.6"/><path d="M894.5,2112.3 C894.2,2113.3 894.2,2116.4 892.8,2118.3 C891.4,2120.2 887.9,2122.1 885.9,2124 C883.9,2125.9 881.8,2127.8 880.7,2130 C879.6,2132.2 879.5,2135.8 879.3,2136.9" fill="none" stroke="#000" stroke-width="1.6" /><path d="M1051.5,2112.3 C1051.8,2113.3 1051.8,2116.4 1053.2,2118.3 C1054.6,2120.2 1058.1,2122.1 1060.1,2124 C1062.1,2125.9 1064.2,2127.8 1065.3,2130 C1066.4,2132.2 1066.5,2135.8 1066.7,2136.9" fill="none" stroke="#000" stroke-width="1.6" /><line x1="880.4" y1="2129.2" x2="1065.6" y2="2129.2" stroke="#000" stroke-width="1.5"/><line x1="880.4" y1="2136.9" x2="1065.6" y2="2136.9" stroke="#000" stroke-width="1.5"/></g></defs><g id="left"><line x1="707" y1="535.3" x2="1239.3" y2="535.3" stroke="#000" stroke-width="2"/><line x1="723.4" y1="535.3" x2="765.6" y2="481.6" stroke="#000" stroke-width="1.8"/><line x1="758.5" y1="535.3" x2="800.7" y2="481.6" stroke="#000" stroke-width="1.8"/><line x1="793.6" y1="535.3" x2="835.8" y2="481.6" stroke="#000" stroke-width="1.8"/><line x1="828.7" y1="535.3" x2="870.9" y2="481.6" stroke="#000" stroke-width="1.8"/><line x1="863.8" y1="535.3" x2="906" y2="481.6" stroke="#000" stroke-width="1.8"/><line x1="898.9" y1="535.3" x2="941.1" y2="481.6" stroke="#000" stroke-width="1.8"/><line x1="934" y1="535.3" x2="976.2" y2="481.6" stroke="#000" stroke-width="1.8"/><line x1="969.1" y1="535.3" x2="1011.3" y2="481.6" stroke="#000" stroke-width="1.8"/><line x1="1004.2" y1="535.3" x2="1046.4" y2="481.6" stroke="#000" stroke-width="1.8"/><line x1="1039.3" y1="535.3" x2="1081.5" y2="481.6" stroke="#000" stroke-width="1.8"/><line x1="1074.4" y1="535.3" x2="1116.6" y2="481.6" stroke="#000" stroke-width="1.8"/><line x1="1109.5" y1="535.3" x2="1151.7" y2="481.6" stroke="#000" stroke-width="1.8"/><line x1="1144.6" y1="535.3" x2="1186.8" y2="481.6" stroke="#000" stroke-width="1.8"/><line x1="1179.7" y1="535.3" x2="1221.9" y2="481.6" stroke="#000" stroke-width="1.8"/><line x1="1214.8" y1="535.3" x2="1257" y2="481.6" stroke="#000" stroke-width="1.8"/><path d="M858.5,559.7 L946.1,559.7 L953.3,566.9 L992.1,566.9 L997.9,559.7 L1085.5,559.7 L1089.8,564.1 L1089.8,600.3 L1086.4,602.9 L993.5,602.9 L993.5,605.7 L954.7,605.7 L954.7,602.9 L857.6,602.9 L854.1,600.3 L854.1,564.1Z" fill="none" stroke="#000" stroke-width="1.8" /><path d="M856.2,563.5 L947.6,563.5 L953.9,570.7 L992.1,570.7 L997,563.5 L1087.8,563.5" fill="none" stroke="#000" stroke-width="1.44" /><path d="M951,567.8 L951,602.9" fill="none" stroke="#000" stroke-width="1.44" /><path d="M994.1,567.8 L994.1,602.9" fill="none" stroke="#000" stroke-width="1.44" /><path d="M954.7,572.1 L954.7,605.7" fill="none" stroke="#000" stroke-width="1.44" /><path d="M990.1,572.1 L990.1,605.7" fill="none" stroke="#000" stroke-width="1.44" /><rect x="895.2" y="580.1" width="36" height="6.4" rx="3.2" fill="none" stroke="#000" stroke-width="1.8"/><line x1="897.5" y1="583.3" x2="928.9" y2="583.3" stroke="#000" stroke-width="1.44"/><rect x="1013.1" y="580.1" width="35.1" height="6.4" rx="3.2" fill="none" stroke="#000" stroke-width="1.8"/><line x1="1015.4" y1="583.3" x2="1045.9" y2="583.3" stroke="#000" stroke-width="1.44"/><ellipse cx="873.4" cy="583" rx="6.32366" ry="4.02414" fill="none" stroke="#000" stroke-width="1.8" /><ellipse cx="1070.6" cy="583" rx="6.32366" ry="4.02414" fill="none" stroke="#000" stroke-width="1.8" /><ellipse cx="970.6" cy="587.9" rx="3.44927" ry="2.29951" fill="none" stroke="#000" stroke-width="1.8" /><ellipse cx="968.3" cy="584.451" rx="2.01207" ry="2.01207" fill="none" stroke="#000" stroke-width="1.8" /><ellipse cx="973.474" cy="584.451" rx="2.01207" ry="2.01207" fill="none" stroke="#000" stroke-width="1.8" /><path d="M903.3,606 L906.2,621 L908.5,658.3 L898.1,658.3 L900.4,621Z" fill="#000" stroke="#000" stroke-width="1.8" /><path d="M892.4,668.4 L914.2,668.4 L913.6,664.7 L906.7,661.2 L899.8,661.2 L892.9,664.7Z" fill="none" stroke="#000" stroke-width="1.8" /><line x1="901.9" y1="662.1" x2="901.9" y2="668.4" stroke="#000" stroke-width="1.44"/><line x1="904.7" y1="662.1" x2="904.7" y2="668.4" stroke="#000" stroke-width="1.44"/><line x1="899.3" y1="625.3" x2="907.3" y2="623" stroke="#888" stroke-width="0.6"/><line x1="899.3" y1="629.3" x2="907.3" y2="627" stroke="#888" stroke-width="0.6"/><line x1="899.3" y1="633.3" x2="907.3" y2="631" stroke="#888" stroke-width="0.6"/><line x1="899.3" y1="637.3" x2="907.3" y2="635.1" stroke="#888" stroke-width="0.6"/><line x1="899.3" y1="641.4" x2="907.3" y2="639.1" stroke="#888" stroke-width="0.6"/><line x1="899.3" y1="645.4" x2="907.3" y2="643.1" stroke="#888" stroke-width="0.6"/><line x1="899.3" y1="649.4" x2="907.3" y2="647.1" stroke="#888" stroke-width="0.6"/><line x1="899.3" y1="653.4" x2="907.3" y2="651.1" stroke="#888" stroke-width="0.6"/><line x1="899.3" y1="657.5" x2="907.3" y2="655.2" stroke="#888" stroke-width="0.6"/><path d="M1028,606 L1030.9,621 L1033.2,658.3 L1022.9,658.3 L1025.2,621Z" fill="#000" stroke="#000" stroke-width="1.8" /><path d="M1017.1,668.4 L1039,668.4 L1038.4,664.7 L1031.5,661.2 L1024.6,661.2 L1017.7,664.7Z" fill="none" stroke="#000" stroke-width="1.8" /><line x1="1026.6" y1="662.1" x2="1026.6" y2="668.4" stroke="#000" stroke-width="1.44"/><line x1="1029.5" y1="662.1" x2="1029.5" y2="668.4" stroke="#000" stroke-width="1.44"/><line x1="1024" y1="625.3" x2="1032.1" y2="623" stroke="#888" stroke-width="0.6"/><line x1="1024" y1="629.3" x2="1032.1" y2="627" stroke="#888" stroke-width="0.6"/><line x1="1024" y1="633.3" x2="1032.1" y2="631" stroke="#888" stroke-width="0.6"/><line x1="1024" y1="637.3" x2="1032.1" y2="635.1" stroke="#888" stroke-width="0.6"/><line x1="1024" y1="641.4" x2="1032.1" y2="639.1" stroke="#888" stroke-width="0.6"/><line x1="1024" y1="645.4" x2="1032.1" y2="643.1" stroke="#888" stroke-width="0.6"/><line x1="1024" y1="649.4" x2="1032.1" y2="647.1" stroke="#888" stroke-width="0.6"/><line x1="1024" y1="653.4" x2="1032.1" y2="651.1" stroke="#888" stroke-width="0.6"/><line x1="1024" y1="657.5" x2="1032.1" y2="655.2" stroke="#888" stroke-width="0.6"/><path d="M970.6,590.8 C971.5,593.4 973.7,600.4 975.7,606.6 C977.7,612.8 981.8,622.2 982.6,628.2 C983.4,634.2 983.1,639.1 980.6,642.5 C978.1,645.9 973.0,648.6 967.7,648.3 C962.4,648.0 954.0,644.2 949,640.5 C944.0,636.8 939.4,628.5 937.5,626.1" fill="none" stroke="#000" stroke-width="6" stroke-linecap="butt" stroke-linejoin="round"/><path d="M970.6,590.8 C971.5,593.4 973.7,600.4 975.7,606.6 C977.7,612.8 981.8,622.2 982.6,628.2 C983.4,634.2 983.1,639.1 980.6,642.5 C978.1,645.9 973.0,648.6 967.7,648.3 C962.4,648.0 954.0,644.2 949,640.5 C944.0,636.8 939.4,628.5 937.5,626.1" fill="none" stroke="#fff" stroke-width="2.6" stroke-linecap="butt" stroke-linejoin="round"/><path d="M933.8,624.4 L940.4,622.7" fill="none" stroke="#000" stroke-width="1.6" /><circle cx="962.8" cy="684.8" r="15.8" fill="none" stroke="#000" stroke-width="1.6"/><line x1="956" y1="677" x2="969.5" y2="677" stroke="#000" stroke-width="1.6"/><line x1="954" y1="682" x2="971.5" y2="682" stroke="#000" stroke-width="1.6"/><line x1="954" y1="687.5" x2="971.5" y2="687.5" stroke="#000" stroke-width="1.6"/><line x1="962.8" y1="687.5" x2="962.8" y2="697" stroke="#000" stroke-width="1.6"/><circle cx="923.1" cy="735.4" r="15.5" fill="none" stroke="#000" stroke-width="1.6"/><text class="sf" x="923.6" y="745" font-size="29" font-weight="bold" text-anchor="middle">L</text><circle cx="1010.8" cy="735.4" r="15.5" fill="none" stroke="#000" stroke-width="1.6"/><text class="sf" x="1011" y="745" font-size="29" font-weight="bold" text-anchor="middle">N</text><path d="M946.1,722.1 C947.1,726.3 949.7,739.8 951.9,747.4 C954.1,755.0 958.1,760.4 959.1,767.6 C960.1,774.8 957.9,786.8 957.6,790.6" fill="none" stroke="#000" stroke-width="4.2" stroke-linecap="butt" stroke-linejoin="round"/><path d="M946.1,722.1 C947.1,726.3 949.7,739.8 951.9,747.4 C954.1,755.0 958.1,760.4 959.1,767.6 C960.1,774.8 957.9,786.8 957.6,790.6" fill="none" stroke="#fff" stroke-width="1.6" stroke-linecap="butt" stroke-linejoin="round"/><path d="M963.4,704.3 C963.4,709.6 962.4,724.9 963.4,735.9 C964.4,746.9 968.4,761.3 969.1,770.4 C969.8,779.5 967.9,787.2 967.7,790.6" fill="none" stroke="#000" stroke-width="4.2" stroke-linecap="butt" stroke-linejoin="round"/><path d="M963.4,704.3 C963.4,709.6 962.4,724.9 963.4,735.9 C964.4,746.9 968.4,761.3 969.1,770.4 C969.8,779.5 967.9,787.2 967.7,790.6" fill="none" stroke="#fff" stroke-width="1.6" stroke-linecap="butt" stroke-linejoin="round"/><path d="M983.5,723 C983.7,727.1 985.6,739.5 984.9,747.4 C984.2,755.3 980.2,763.2 979.2,770.4 C978.2,777.6 978.7,787.2 978.6,790.6" fill="none" stroke="#000" stroke-width="4.2" stroke-linecap="butt" stroke-linejoin="round"/><path d="M983.5,723 C983.7,727.1 985.6,739.5 984.9,747.4 C984.2,755.3 980.2,763.2 979.2,770.4 C978.2,777.6 978.7,787.2 978.6,790.6" fill="none" stroke="#fff" stroke-width="1.6" stroke-linecap="butt" stroke-linejoin="round"/><circle cx="689.4" cy="753.8" r="36" fill="none" stroke="#000" stroke-width="1.4"/><text class="sf" transform="translate(691.9,779.4) scale(0.88,1)" font-size="84" text-anchor="middle" style="fill:#000">1</text><circle cx="729.3" cy="2221" r="36" fill="none" stroke="#000" stroke-width="1.4"/><text class="sf" transform="translate(731.8,2246.6) scale(0.88,1)" font-size="84" text-anchor="middle" style="fill:#000">2</text><circle cx="798.7" cy="1122.8" r="36" fill="none" stroke="#000" stroke-width="1.4"/><text class="sf" transform="translate(801.2,1148.4) scale(0.88,1)" font-size="84" text-anchor="middle" style="fill:#000">3</text><circle cx="1204.2" cy="694.3" r="36" fill="none" stroke="#000" stroke-width="1.4"/><text class="sf" transform="translate(1202.7,717.9) scale(0.88,1)" font-size="84" text-anchor="middle" style="fill:#000">4</text><circle cx="1778.8" cy="1530" r="36" fill="none" stroke="#000" stroke-width="1.4"/><text class="sf" transform="translate(1781.3,1555.6) scale(0.88,1)" font-size="84" text-anchor="middle" style="fill:#000">5</text><line x1="758.4" y1="792" x2="758.4" y2="622.2" stroke="#000" stroke-width="1.8"/><path d="M758.4,592.2 L752.9,622.2 L763.9,622.2 Z" fill="#000"/><line x1="870.4" y1="1171" x2="870.4" y2="1001" stroke="#000" stroke-width="1.8"/><path d="M870.4,971 L864.9,1001 L875.9,1001 Z" fill="#000"/><line x1="1260.9" y1="747.4" x2="1069.5" y2="747.4" stroke="#000" stroke-width="1.8"/><path d="M1039.5,747.4 L1069.5,741.9 L1069.5,752.9 Z" fill="#000"/><line x1="644" y1="2157.2" x2="832.4" y2="2157.2" stroke="#000" stroke-width="1.8"/><path d="M862.4,2157.2 L832.4,2151.7 L832.4,2162.7 Z" fill="#000"/><line x1="1711.6" y1="1461.2" x2="1711.6" y2="1632.3" stroke="#000" stroke-width="1.8"/><path d="M1711.6,1662.3 L1706.1,1632.3 L1717.1,1632.3 Z" fill="#000"/><path d="M560,794.6 C553.0,785.0 533.9,753.6 518.2,737 C502.5,720.4 488.5,707.4 465.9,695.2 C443.2,683.0 406.7,669.1 382.3,663.9 C357.9,658.7 340.4,661.3 319.5,663.9 C298.6,666.5 277.7,670.0 256.8,679.6 C235.9,689.2 212.4,704.0 194.1,721.4 C175.8,738.8 159.6,761.5 147,784.1 C134.4,806.8 124.4,830.3 118.3,857.3 C112.2,884.3 109.6,918.2 110.5,946.1 C111.4,974.0 115.7,998.4 123.5,1024.6 C131.3,1050.8 144.0,1079.5 157.5,1103 C171.0,1126.5 185.3,1147.4 204.5,1165.7 C223.7,1184.0 250.7,1200.5 272.5,1212.7 C294.3,1224.9 315.2,1234.5 335.2,1238.9 C355.2,1243.3 370.9,1241.5 392.7,1238.9 C414.5,1236.3 442.4,1233.7 465.9,1223.2 C489.4,1212.8 514.7,1197.1 533.9,1176.2 C553.1,1155.3 569.6,1125.6 580.9,1097.7 C592.2,1069.8 598.3,1033.7 601.8,1008.9 C605.3,984.1 601.8,958.8 601.8,948.8" fill="none" stroke="#000" stroke-width="1.8" /><path d="M560,794.6 L838.7,836.4 L601.8,948.8" fill="none" stroke="#000" stroke-width="1.8" /><path d="M301.4,678.8 L327.5,678.8 L327.5,769.9 L301.4,769.9Z" fill="none" stroke="#000" stroke-width="1.6" /><path d="M308.7,679.3 L308.7,758.4" fill="none" stroke="#000" stroke-width="1.4" /><path d="M320.2,679.3 L320.2,758.4" fill="none" stroke="#000" stroke-width="1.4" /><path d="M301.4,758.4 L327.5,758.4" fill="none" stroke="#000" stroke-width="1.4" /><path d="M301.4,761.6 L327.5,761.6" fill="none" stroke="#000" stroke-width="1.4" /><path d="M310.4,769.9 L310.4,840.1 L313.9,848.5 L318.1,840.1 L318.1,769.9" fill="none" stroke="#000" stroke-width="1.6" /><path d="M310.4,840.1 L318.1,840.1" fill="none" stroke="#000" stroke-width="1.2" /><path d="M244.8,773.1 L247.5,776.2 L250.5,773.1 L250.5,821.3 L254.2,821.3 L247.5,828.6 L240.6,821.3 L244.8,821.3Z" fill="none" stroke="#000" stroke-width="1.4" /><path d="M273.1,763.7 C278.7,764.4 294.7,765.5 306.6,767.9 C318.5,770.3 335.8,775.3 344.3,778.3 C352.9,781.3 357.2,782.7 357.9,785.7 C358.6,788.7 355.6,792.6 348.5,796.1 C341.4,799.6 326.7,803.5 315,806.6 C303.3,809.8 284.4,813.6 278.3,815 M278.3,815 L276.2,821.3 L264.7,813.9 L274.1,802.4 L276.2,808.7 M276.2,808.7 C282.0,807.2 299.4,803.7 310.8,799.9 C322.2,796.1 339.8,789.1 344.3,785.7 C348.8,782.3 344.3,781.3 338,779.4 C331.7,777.5 317.4,775.0 306.6,774.1 C295.8,773.2 278.7,774.1 273.1,774.1 M273.1,774.1 L280.4,768.9 L273.1,763.7" fill="none" stroke="#000" stroke-width="1.5" /><path d="M380.9,664.2 C380.4,672.2 379.7,697.4 377.8,712.4 C375.9,727.4 373.2,737.8 369.4,754.2 C365.6,770.6 360.7,791.9 354.8,810.8 C348.9,829.6 337.3,857.9 333.8,867.3" fill="none" stroke="#000" stroke-width="1.5" /><path d="M390.4,667.3 C389.7,674.8 387.9,699.6 386.2,712.4 C384.4,725.1 384.1,728.1 379.9,743.8 C375.7,759.5 367.6,784.3 361,806.6 C354.4,828.9 343.6,865.9 340.1,877.8" fill="none" stroke="#000" stroke-width="1.5" /><path d="M434.3,680.9 C432.2,689.3 426.7,712.4 421.8,731.2 C416.9,750.1 410.9,770.3 405,794 C399.1,817.7 389.3,860.3 386.2,873.6" fill="none" stroke="#000" stroke-width="1.5" /><path d="M443.8,685.1 C441.5,693.5 435.3,716.5 430.2,735.4 C425.1,754.2 419.7,774.5 413.4,798.2 C407.1,821.9 396.0,864.5 392.5,877.8" fill="none" stroke="#000" stroke-width="1.5" /><path d="M457.4,691.4 C456.0,701.9 451.8,731.5 449,754.2 C446.2,776.9 442.5,805.9 440.6,827.5 C438.7,849.1 438.0,874.7 437.5,884.1" fill="none" stroke="#000" stroke-width="1.5" /><path d="M467.9,697.7 C466.1,708.2 460.5,738.9 457.4,760.5 C454.2,782.1 450.9,804.8 449,827.5 C447.1,850.2 446.4,885.1 445.9,896.6" fill="none" stroke="#000" stroke-width="1.5" /><path d="M289.8,921.8 L338,882 L459.5,906.1 L460.5,932.3 L430.2,995.1 L325.4,963.7Z" fill="#fff" stroke="#000" stroke-width="1.5" /><path d="M338,882 L348.5,885.1 L348.5,907.1" fill="none" stroke="#000" stroke-width="1.3" /><path d="M394.6,894.6 L404,896.6 L404,919.7" fill="none" stroke="#000" stroke-width="1.3" /><path d="M459.5,906.1 L432.3,938.5" fill="none" stroke="#000" stroke-width="1.3" /><path d="M304.9,871.5 L303.2,902.9 Q319.2,916.5 335.1,902.9 L333.4,871.5 Z" fill="#fff" stroke="#000" stroke-width="1.5" /><ellipse cx="319.2" cy="871.5" rx="14.6597" ry="10.4712" fill="#fff" stroke="#000" stroke-width="1.5" /><ellipse cx="319.2" cy="872.5" rx="10.8901" ry="7.32984" fill="#fff" stroke="#000" stroke-width="1.5" /><path d="M359.4,882 L357.7,913.4 Q373.6,927 389.5,913.4 L387.9,882 Z" fill="#fff" stroke="#000" stroke-width="1.5" /><ellipse cx="373.6" cy="882" rx="14.6597" ry="10.4712" fill="#fff" stroke="#000" stroke-width="1.5" /><ellipse cx="373.6" cy="883" rx="10.8901" ry="7.32984" fill="#fff" stroke="#000" stroke-width="1.5" /><path d="M415.9,892.5 L414.2,923.9 Q430.2,937.5 446.1,923.9 L444.4,892.5 Z" fill="#fff" stroke="#000" stroke-width="1.5" /><ellipse cx="430.2" cy="892.5" rx="14.6597" ry="10.4712" fill="#fff" stroke="#000" stroke-width="1.5" /><ellipse cx="430.2" cy="893.5" rx="10.8901" ry="7.32984" fill="#fff" stroke="#000" stroke-width="1.5" /><ellipse cx="339.1" cy="916.5" rx="7.32984" ry="5.2356" fill="#fff" stroke="#000" stroke-width="1.3" /><ellipse cx="394.6" cy="927" rx="7.32984" ry="5.2356" fill="#fff" stroke="#000" stroke-width="1.3" /><path d="M278.3,938.5 L294,919.7 L343.2,928.1 L327.5,946.9Z" fill="#fff" stroke="#000" stroke-width="1.5" /><path d="M278.3,938.5 L327.5,946.9 L327.5,969.9 L320.2,979.4 L288.8,975.2 L280.4,965.8Z" fill="#fff" stroke="#000" stroke-width="1.5" /><path d="M327.5,946.9 L343.2,928.1 L343.2,951.1 L327.5,969.9" fill="#fff" stroke="#000" stroke-width="1.3" /><path d="M334.9,949 L350.6,930.2 L399.8,938.5 L384.1,957.4Z" fill="#fff" stroke="#000" stroke-width="1.5" /><path d="M334.9,949 L384.1,957.4 L384.1,980.4 L376.8,989.8 L345.3,985.7 L337,976.2Z" fill="#fff" stroke="#000" stroke-width="1.5" /><path d="M384.1,957.4 L399.8,938.5 L399.8,961.6 L384.1,980.4" fill="#fff" stroke="#000" stroke-width="1.3" /><path d="M390.4,959.5 L406.1,940.6 L455.3,949 L439.6,967.9Z" fill="#fff" stroke="#000" stroke-width="1.5" /><path d="M390.4,959.5 L439.6,967.9 L439.6,990.9 L432.3,1000.3 L400.8,996.1 L392.5,986.7Z" fill="#fff" stroke="#000" stroke-width="1.5" /><path d="M439.6,967.9 L455.3,949 L455.3,972 L439.6,990.9" fill="#fff" stroke="#000" stroke-width="1.3" /><path d="M291.3,897.7 L289.6,929.1 Q305.5,942.7 321.5,929.1 L319.8,897.7 Z" fill="#fff" stroke="#000" stroke-width="1.5" /><ellipse cx="305.5" cy="897.7" rx="14.6597" ry="10.4712" fill="#fff" stroke="#000" stroke-width="1.5" /><ellipse cx="305.5" cy="898.7" rx="10.8901" ry="7.32984" fill="#fff" stroke="#000" stroke-width="1.5" /><path d="M346.8,908.2 L345.1,939.6 Q361,953.2 377,939.6 L375.3,908.2 Z" fill="#fff" stroke="#000" stroke-width="1.5" /><ellipse cx="361" cy="908.2" rx="14.6597" ry="10.4712" fill="#fff" stroke="#000" stroke-width="1.5" /><ellipse cx="361" cy="909.2" rx="10.8901" ry="7.32984" fill="#fff" stroke="#000" stroke-width="1.5" /><path d="M402.3,919.7 L400.6,951.1 Q416.5,964.7 432.5,951.1 L430.8,919.7 Z" fill="#fff" stroke="#000" stroke-width="1.5" /><ellipse cx="416.5" cy="919.7" rx="14.6597" ry="10.4712" fill="#fff" stroke="#000" stroke-width="1.5" /><ellipse cx="416.5" cy="920.7" rx="10.8901" ry="7.32984" fill="#fff" stroke="#000" stroke-width="1.5" /><path d="M284.6,946.9 L284.6,967.9 L290.9,976.2 L313.9,978.3 L320.2,972 L320.2,953.2" fill="none" stroke="#000" stroke-width="1.3" /><path d="M299.3,950.1 L299.3,956.3 L304.5,956.3 L304.5,950.7" fill="none" stroke="#000" stroke-width="1.3" /><path d="M341.2,957.4 L341.2,978.3 L347.4,986.7 L370.5,988.8 L376.8,982.5 L376.8,963.7" fill="none" stroke="#000" stroke-width="1.3" /><path d="M355.8,960.5 L355.8,966.8 L361,966.8 L361,961.2" fill="none" stroke="#000" stroke-width="1.3" /><path d="M396.6,967.9 L396.6,988.8 L402.9,997.2 L426,999.3 L432.3,993 L432.3,974.1" fill="none" stroke="#000" stroke-width="1.3" /><path d="M411.3,971 L411.3,977.3 L416.5,977.3 L416.5,971.6" fill="none" stroke="#000" stroke-width="1.3" /><text class="sf" transform="translate(167.3,922.6) scale(0.68,1)" font-size="64" font-weight="bold" style="fill:#000">L</text><text class="sf" transform="translate(511.8,990.5) scale(0.667,1)" font-size="64" font-weight="bold" style="fill:#000">N</text><path d="M190.9,899 L243.2,899 L275.7,948.6" fill="none" stroke="#000" stroke-width="1.6" /><path d="M276.5,950.2 L268.1,943.7 L273.8,939.8 Z" fill="#000"/><path d="M512.5,970.4 L462.9,970.4 L430.4,997.1" fill="none" stroke="#000" stroke-width="1.6" /><path d="M429.3,998.3 L436.1,987.6 L440.7,993.3 Z" fill="#000"/><ellipse cx="222.2" cy="1015.1" rx="24.5" ry="26" fill="none" stroke="#000" stroke-width="1.5" /><line x1="214.2" y1="1002.1" x2="230.2" y2="1002.1" stroke="#000" stroke-width="1.5"/><line x1="209.2" y1="1010.1" x2="235.2" y2="1010.1" stroke="#000" stroke-width="1.5"/><line x1="209.2" y1="1018.1" x2="235.2" y2="1018.1" stroke="#000" stroke-width="1.5"/><line x1="222.2" y1="1018.1" x2="222.2" y2="1033.1" stroke="#000" stroke-width="1.5"/><path d="M250.9,1018.2 L304.4,1018.2 L336.8,980" fill="none" stroke="#000" stroke-width="1.6" /><path d="M339.9,976.1 L329.2,981.9 L334.9,986.8 Z" fill="#000"/><path d="M296.7,957 C295.1,965.3 288.8,992.1 287.2,1006.7 C285.6,1021.4 282.8,1032.8 287.2,1044.9 C291.6,1057.0 304.3,1068.5 313.9,1079.3 C323.4,1090.1 338.1,1100.2 344.5,1109.8 C350.9,1119.3 350.8,1132.1 352.1,1136.6" fill="none" stroke="#000" stroke-width="1.5" /><path d="M300.5,964.7 C299.6,973.0 295.4,1000.9 294.8,1014.3 C294.2,1027.7 292.2,1034.1 296.7,1044.9 C301.1,1055.7 314.5,1069.8 321.5,1079.3 C328.5,1088.8 334.9,1092.7 338.7,1102.2 C342.5,1111.8 343.5,1130.9 344.5,1136.6" fill="none" stroke="#000" stroke-width="1.5" /><path d="M348.3,976.1 C347.7,983.8 347.7,1008.0 344.5,1022 C341.3,1036.0 336.8,1046.2 329.2,1060.2 C321.6,1074.2 308.2,1088.2 298.6,1106 C289.1,1123.8 277.6,1148.6 271.9,1167.1 C266.2,1185.6 265.5,1208.5 264.2,1216.8" fill="none" stroke="#000" stroke-width="1.5" /><path d="M359.7,976.1 C358.8,983.8 357.5,1007.4 354,1022 C350.5,1036.7 346.3,1049.4 338.7,1064 C331.1,1078.6 317.8,1092.0 308.2,1109.8 C298.6,1127.6 286.9,1152.1 281.4,1170.9 C275.8,1189.7 276.0,1213.9 274.9,1222.5" fill="none" stroke="#000" stroke-width="1.5" /><path d="M407.5,983.8 C405.9,990.2 400.1,1009.9 397.9,1022 C395.7,1034.1 399.2,1045.5 394.1,1056.3 C389.0,1067.1 374.4,1077.4 367.4,1086.9 C360.4,1096.5 355.0,1105.3 352.1,1113.6 C349.2,1121.9 350.5,1132.8 350.2,1136.6" fill="none" stroke="#000" stroke-width="1.5" /><path d="M417,983.8 C415.1,990.2 407.8,1009.9 405.6,1022 C403.4,1034.1 408.2,1045.5 403.7,1056.3 C399.2,1067.1 385.8,1077.4 378.8,1086.9 C371.8,1096.5 364.9,1105.3 361.7,1113.6 C358.5,1121.9 360.0,1132.8 359.7,1136.6" fill="none" stroke="#000" stroke-width="1.5" /><path d="M334.9,1136.6 L365.5,1142.3 L350.2,1237.8" fill="none" stroke="#000" stroke-width="1.5" /><path d="M334.9,1136.6 L319.6,1234" fill="none" stroke="#000" stroke-width="1.5" /><use href="#core"/><rect x="879" y="2136.9" width="187.5" height="42.3" rx="0" fill="#fff" stroke="#000" stroke-width="1.6"/><rect x="961.8" y="2179.2" width="23.3" height="34.5" rx="0" fill="#fff" stroke="#000" stroke-width="1.6"/><line x1="961.8" y1="2189.5" x2="985.1" y2="2189.5" stroke="#000" stroke-width="1.4"/><line x1="961.8" y1="2198.2" x2="985.1" y2="2198.2" stroke="#000" stroke-width="1.4"/><line x1="961.8" y1="2206.8" x2="985.1" y2="2206.8" stroke="#000" stroke-width="1.4"/><path d="M876.7,2214.6 L1068.4,2214.6 L1066.1,2224 L879,2224Z" fill="#fff" stroke="#000" stroke-width="1.6" /><path d="M879.3,2224.6 C881.8,2225.9 887.4,2230.1 894.5,2232.7 C901.6,2235.3 917.5,2239.1 922.1,2240.4" fill="none" stroke="#000" stroke-width="1.6" /><path d="M1066.7,2224.6 C1064.2,2225.9 1058.6,2230.1 1051.5,2232.7 C1044.4,2235.3 1028.5,2239.1 1023.9,2240.4" fill="none" stroke="#000" stroke-width="1.6" /><line x1="922.1" y1="2240.4" x2="1023.9" y2="2240.4" stroke="#000" stroke-width="1.5"/><path d="M925.6,2240.4 C926.8,2242.0 931.8,2246.9 932.5,2249.9 C933.2,2252.9 931.3,2256.3 929.9,2258.5 C928.5,2260.7 925.2,2262.4 924.2,2263.2" fill="none" stroke="#000" stroke-width="1.6" /><path d="M1020.4,2240.4 C1019.2,2242.0 1014.2,2246.9 1013.5,2249.9 C1012.8,2252.9 1014.7,2256.3 1016.1,2258.5 C1017.5,2260.7 1020.8,2262.4 1021.8,2263.2" fill="none" stroke="#000" stroke-width="1.6" /><rect x="923.5" y="2262.9" width="99" height="7.7" rx="4" fill="#fff" stroke="#000" stroke-width="1.6"/><path d="M926.4,2270.6 C928.3,2272.2 933.3,2277.7 937.6,2280.1 C941.9,2282.5 949.8,2284.1 952.3,2284.9" fill="none" stroke="#000" stroke-width="1.6" /><path d="M1019.6,2270.6 C1017.7,2272.2 1012.7,2277.7 1008.4,2280.1 C1004.1,2282.5 996.2,2284.1 993.7,2284.9" fill="none" stroke="#000" stroke-width="1.6" /><rect x="952.3" y="2285.3" width="41.4" height="7.7" rx="3.5" fill="#fff" stroke="#000" stroke-width="1.6"/><path d="M956.6,2293.9 C955.9,2295.1 953.3,2298.5 952.3,2300.8 C951.3,2303.1 950.9,2306.5 950.6,2307.7" fill="none" stroke="#000" stroke-width="1.6" /><path d="M989.4,2293.9 C990.1,2295.1 992.7,2298.5 993.7,2300.8 C994.7,2303.1 995.1,2306.5 995.4,2307.7" fill="none" stroke="#000" stroke-width="1.6" /><line x1="950.6" y1="2307.7" x2="995.4" y2="2307.7" stroke="#000" stroke-width="1.5"/><path d="M950.6,2307.7 C951.2,2310.3 951.9,2318.6 954,2323.2 C956.1,2327.8 960.3,2331.9 963.5,2335.3 C966.7,2338.8 971.4,2342.5 973,2343.9" fill="none" stroke="#000" stroke-width="1.6" /><path d="M995.4,2307.7 C994.8,2310.3 994.1,2318.6 992,2323.2 C989.9,2327.8 985.7,2331.9 982.5,2335.3 C979.3,2338.8 974.6,2342.5 973,2343.9" fill="none" stroke="#000" stroke-width="1.6" /><path d="M956.6,2110.2 L963.5,2106.7 L984.2,2106.7 L989.4,2110.2 L989.4,2117.1 L956.6,2117.1Z" fill="#fff" stroke="#000" stroke-width="1.4" /><path d="M963.5,2107.3 L963.5,2117.1" fill="none" stroke="#000" stroke-width="1.2" /><path d="M980.8,2107.3 L980.8,2117.1" fill="none" stroke="#000" stroke-width="1.2" /><path d="M956.6,2117.1 L989.4,2117.1 L989.4,2161.1 L956.6,2161.1Z" fill="#fff" stroke="#000" stroke-width="1.5" /><path d="M956.6,2125.7 L989.4,2125.7" fill="none" stroke="#000" stroke-width="1.3" /><path d="M956.6,2162.8 L989.4,2162.8 L989.4,2170.6 L984.2,2172.3 L963.5,2172.3 L956.6,2170.6Z" fill="#fff" stroke="#000" stroke-width="1.4" /><path d="M963.5,2162.8 L963.5,2172.3" fill="none" stroke="#000" stroke-width="1.2" /><path d="M980.8,2162.8 L980.8,2172.3" fill="none" stroke="#000" stroke-width="1.2" /><path d="M973,2127.4 L989.4,2127.4 L989.4,2130 L983.3,2130 L983.3,2148.1 L989.4,2148.1 L989.4,2153.3 L973,2153.3Z" fill="#fff" stroke="#000" stroke-width="1.4" /><path d="M960.1,2107.6 C956.9,2108.8 945.4,2110.5 941.1,2114.5 C936.8,2118.5 934.5,2126.1 934.2,2131.8 C933.9,2137.6 935.7,2144.1 939.4,2149 C943.1,2153.9 953.7,2159.1 956.6,2161.1" fill="none" stroke="#000" stroke-width="3.6" stroke-linecap="butt" stroke-linejoin="round"/><path d="M960.1,2107.6 C956.9,2108.8 945.4,2110.5 941.1,2114.5 C936.8,2118.5 934.5,2126.1 934.2,2131.8 C933.9,2137.6 935.7,2144.1 939.4,2149 C943.1,2153.9 953.7,2159.1 956.6,2161.1" fill="none" stroke="#fff" stroke-width="1.2" stroke-linecap="butt" stroke-linejoin="round"/><path d="M983.3,2138.7 C984.6,2139.7 986.6,2143.1 991.1,2144.7 C995.6,2146.3 1005.9,2146.2 1010.1,2148.1 C1014.3,2150.0 1015.1,2154.6 1016.1,2155.9" fill="none" stroke="#000" stroke-width="3.8" stroke-linecap="butt" stroke-linejoin="round"/><path d="M983.3,2138.7 C984.6,2139.7 986.6,2143.1 991.1,2144.7 C995.6,2146.3 1005.9,2146.2 1010.1,2148.1 C1014.3,2150.0 1015.1,2154.6 1016.1,2155.9" fill="none" stroke="#fff" stroke-width="1.3" stroke-linecap="butt" stroke-linejoin="round"/><path d="M984.2,2142.1 C985.9,2143.2 992.3,2146.7 994.6,2149 C996.9,2151.3 998.6,2154.0 998,2155.9 C997.4,2157.8 992.2,2159.5 991.1,2160.2" fill="none" stroke="#000" stroke-width="3.6" stroke-linecap="butt" stroke-linejoin="round"/><path d="M984.2,2142.1 C985.9,2143.2 992.3,2146.7 994.6,2149 C996.9,2151.3 998.6,2154.0 998,2155.9 C997.4,2157.8 992.2,2159.5 991.1,2160.2" fill="none" stroke="#fff" stroke-width="1.2" stroke-linecap="butt" stroke-linejoin="round"/><path d="M1016.1,2152.5 C1017.7,2151.5 1020.0,2147.0 1025.6,2146.4 C1031.2,2145.8 1040.0,2147.8 1049.8,2149 C1059.6,2150.2 1073.7,2152.7 1084.3,2153.3 C1094.9,2153.9 1108.7,2152.6 1113.6,2152.5" fill="none" stroke="#000" stroke-width="3.6" stroke-linecap="butt" stroke-linejoin="round"/><path d="M1016.1,2152.5 C1017.7,2151.5 1020.0,2147.0 1025.6,2146.4 C1031.2,2145.8 1040.0,2147.8 1049.8,2149 C1059.6,2150.2 1073.7,2152.7 1084.3,2153.3 C1094.9,2153.9 1108.7,2152.6 1113.6,2152.5" fill="none" stroke="#fff" stroke-width="1.2" stroke-linecap="butt" stroke-linejoin="round"/><path d="M1025.6,2152.5 C1027.6,2152.5 1030.8,2151.2 1037.7,2152.5 C1044.6,2153.8 1058.7,2159.0 1067,2160.2 C1075.3,2161.3 1079.9,2159.7 1087.7,2159.4 C1095.5,2159.1 1109.3,2158.7 1113.6,2158.5" fill="none" stroke="#000" stroke-width="3.6" stroke-linecap="butt" stroke-linejoin="round"/><path d="M1025.6,2152.5 C1027.6,2152.5 1030.8,2151.2 1037.7,2152.5 C1044.6,2153.8 1058.7,2159.0 1067,2160.2 C1075.3,2161.3 1079.9,2159.7 1087.7,2159.4 C1095.5,2159.1 1109.3,2158.7 1113.6,2158.5" fill="none" stroke="#fff" stroke-width="1.2" stroke-linecap="butt" stroke-linejoin="round"/><path d="M1006.6,2155.9 L1013.5,2155.9 L1012.7,2162.8 L1011.8,2174 L1008.4,2175.7 L1006.6,2174 L1006.6,2162.8Z" fill="#fff" stroke="#000" stroke-width="1.3" /><path d="M1006.6,2162.8 L1012.7,2162.8" fill="none" stroke="#000" stroke-width="1.1" /><path d="M1019.6,2155.9 L1026.5,2155.9 L1025.6,2162.8 L1024.7,2174 L1021.3,2175.7 L1019.6,2174 L1019.6,2162.8Z" fill="#fff" stroke="#000" stroke-width="1.3" /><path d="M1019.6,2162.8 L1025.6,2162.8" fill="none" stroke="#000" stroke-width="1.1" /><path d="M1087.7,2140.4 L1094.6,2140.4 L1096.3,2149 L1096.3,2164.5 L1094.6,2173.2 L1087.7,2173.2 L1086,2164.5 L1086,2149Z" fill="#fff" stroke="#000" stroke-width="1.4" /><path d="M1086,2149 L1096.3,2149" fill="none" stroke="#000" stroke-width="1.1" /><path d="M1086,2164.5 L1096.3,2164.5" fill="none" stroke="#000" stroke-width="1.1" /><path d="M1112.7,2143 L1139.5,2143 L1139.5,2168 L1112.7,2168Z" fill="#fff" stroke="#000" stroke-width="1.5" /><line x1="1118.8" y1="2143.5" x2="1118.8" y2="2167.6" stroke="#000" stroke-width="1.2"/><line x1="1123.9" y1="2143.5" x2="1123.9" y2="2167.6" stroke="#000" stroke-width="1.2"/><line x1="1128.2" y1="2143.5" x2="1128.2" y2="2167.6" stroke="#000" stroke-width="1.2"/><line x1="1132.6" y1="2143.5" x2="1132.6" y2="2167.6" stroke="#000" stroke-width="1.2"/><line x1="1136" y1="2143.5" x2="1136" y2="2167.6" stroke="#000" stroke-width="1.2"/><path d="M1139.5,2138.7 L1167.1,2138.7 Q1179.1,2138.7 1179.1,2152.5 L1179.1,2161.1 Q1179.1,2174 1167.1,2174 L1139.5,2174 Z" fill="#000" stroke="#000" stroke-width="1.5" /><path d="M1141.2,2146.4 L1172.2,2146.4 L1172.2,2167.1 L1141.2,2167.1Z" fill="#fff" stroke="#000" stroke-width="1.2" /><path d="M1149.8,2168.3 L1163.6,2168.3 L1163.6,2173.2 L1149.8,2173.2Z" fill="#fff" stroke="#000" stroke-width="1" /><line x1="1165.3" y1="2146.4" x2="1165.3" y2="2167.1" stroke="#000" stroke-width="1.2"/><path d="M1165.3,2173.6 C1168.2,2177.2 1176.6,2189.6 1182.8,2195.4 C1189.0,2201.2 1195.2,2204.9 1202.4,2208.5 C1209.7,2212.1 1218.3,2215.4 1226.3,2217.2 C1234.3,2219.0 1241.9,2219.4 1250.3,2219.4 C1258.7,2219.4 1267.7,2218.6 1276.4,2217.2 C1285.1,2215.8 1293.8,2213.6 1302.5,2210.7 C1311.2,2207.8 1319.6,2204.2 1328.7,2199.8 C1337.8,2195.4 1347.2,2190.3 1357,2184.5 C1366.8,2178.7 1377.7,2171.4 1387.5,2164.9 C1397.3,2158.4 1406.4,2151.8 1415.8,2145.3 C1425.2,2138.8 1435.0,2131.1 1444.1,2125.7 C1453.2,2120.3 1460.8,2116.7 1470.2,2112.7 C1479.6,2108.7 1492.7,2104.0 1500.7,2101.8 C1508.7,2099.6 1508.8,2100.0 1518.1,2099.6 C1527.3,2099.2 1549.8,2099.3 1556.2,2099.2" fill="none" stroke="#000" stroke-width="1.6" /><path d="M1145.7,2173.6 C1148.2,2177.6 1154.8,2190.3 1161,2197.6 C1167.2,2204.9 1174.8,2211.8 1182.8,2217.2 C1190.8,2222.6 1200.2,2226.9 1208.9,2230.3 C1217.6,2233.8 1227.8,2236.5 1235,2237.9 C1242.2,2239.3 1245.1,2238.9 1252.4,2238.5 C1259.7,2238.1 1269.5,2237.4 1278.6,2235.7 C1287.7,2234.0 1297.5,2231.5 1306.9,2228.1 C1316.3,2224.7 1325.4,2219.7 1335.2,2215 C1345.0,2210.3 1355.9,2205.6 1365.7,2199.8 C1375.5,2194.0 1384.6,2186.7 1394,2180.2 C1403.4,2173.7 1412.5,2167.1 1422.3,2160.6 C1432.1,2154.1 1443.0,2146.1 1452.8,2141 C1462.6,2135.9 1471.7,2133.0 1481.1,2130.1 C1490.5,2127.2 1496.9,2125.8 1509.4,2123.6 C1521.9,2121.4 1548.4,2117.9 1556.2,2116.8" fill="none" stroke="#000" stroke-width="1.6" /><path d="M1171.9,2196.5 C1175.4,2199.2 1185.0,2208.3 1192.6,2212.85 C1200.2,2217.4 1209.3,2221.1 1217.6,2223.75 C1225.9,2226.4 1234.9,2228.0 1242.65,2228.65 C1250.5,2229.3 1256.4,2228.8 1264.4,2227.85 C1272.4,2226.9 1281.6,2225.5 1290.55,2223.2 C1299.5,2220.9 1308.5,2217.9 1317.8,2213.95 C1327.1,2210.0 1336.3,2205.0 1346.1,2199.75 C1355.9,2194.5 1366.8,2188.5 1376.6,2182.35 C1386.4,2176.2 1395.5,2169.3 1404.9,2162.75 C1414.3,2156.2 1423.8,2149.1 1433.2,2143.15 C1442.6,2137.2 1451.9,2131.4 1461.5,2126.85 C1471.1,2122.3 1482.2,2118.5 1490.9,2115.95 C1499.6,2113.4 1502.9,2112.9 1513.75,2111.6 C1524.6,2110.3 1549.1,2108.6 1556.2,2108" fill="none" stroke="#000" stroke-width="1.2" stroke-dasharray="12,10"/><path d="M1556.2,2099.2 L1556.2,2116.8" fill="none" stroke="#000" stroke-width="1.6" /><path d="M1556.2,2116.2 C1557.8,2116.1 1564.0,2115.0 1566,2115.5 C1568.0,2116.0 1564.8,2118.4 1568,2119 C1571.2,2119.6 1579.7,2118.5 1585,2119 C1590.3,2119.5 1597.0,2120.7 1600,2122 C1603.0,2123.3 1600.0,2125.5 1603,2127 C1606.0,2128.5 1614.2,2129.2 1618,2131 C1621.8,2132.8 1623.5,2135.8 1626,2138 C1628.5,2140.2 1631.6,2141.9 1632.8,2143.9 C1634.0,2145.9 1631.6,2147.7 1633,2150 C1634.4,2152.3 1639.3,2155.0 1641,2158 C1642.7,2161.0 1641.8,2164.8 1643,2168 C1644.2,2171.2 1648.0,2174.4 1648.3,2177.2 C1648.6,2180.0 1644.9,2182.0 1645,2185 C1645.1,2188.0 1649.2,2190.8 1649,2195 C1648.8,2199.2 1644.4,2207.1 1643.9,2210.4 C1643.4,2213.7 1648.3,2213.1 1646,2215 C1643.7,2216.9 1634.8,2220.0 1630,2222 C1625.2,2224.0 1622.0,2226.3 1617.3,2227 C1612.6,2227.7 1606.9,2227.2 1602,2226 C1597.1,2224.8 1591.0,2222.2 1588,2220 C1585.0,2217.8 1583.2,2215.3 1584,2213 C1584.8,2210.7 1588.6,2208.2 1592.9,2206 C1597.2,2203.8 1605.2,2202.2 1610,2200 C1614.8,2197.8 1618.6,2196.5 1621.7,2192.7 C1624.8,2188.9 1628.4,2183.5 1628.4,2177.2 C1628.4,2170.9 1628.4,2162.0 1621.7,2155 C1615.0,2148.0 1604.0,2139.1 1588.5,2135 C1573.0,2130.9 1547.1,2130.0 1528.6,2130.6 C1510.1,2131.2 1493.7,2134.3 1477.6,2138.4 C1461.5,2142.5 1440.0,2152.7 1432.2,2155 C1424.4,2157.3 1427.6,2154.3 1431,2152 C1434.4,2149.7 1444.5,2144.7 1452.8,2141 C1461.1,2137.3 1471.7,2133.0 1481.1,2130.1 C1490.5,2127.2 1496.9,2125.9 1509.4,2123.6 C1521.9,2121.3 1548.4,2117.4 1556.2,2116.2" fill="none" stroke="#000" stroke-width="1.5" /><ellipse cx="1529.2" cy="2090.3" rx="18.2" ry="9.5" fill="#fff" stroke="#000" stroke-width="1.6" /><rect x="1459" y="2055.5" width="137.4" height="11.1" rx="5.5" fill="#fff" stroke="#000" stroke-width="1.6"/><path d="M1488.3,2066.6 C1489.8,2068.0 1490.7,2073.2 1497.4,2075.2 C1504.1,2077.2 1518.3,2078.7 1528.7,2078.7 C1539.1,2078.7 1553.1,2077.2 1560,2075.2 C1566.9,2073.2 1568.4,2068.0 1570.1,2066.6" fill="none" stroke="#000" stroke-width="1.6" /><path d="M1493.3,2065.6 C1494.7,2066.8 1496.0,2071.0 1501.9,2072.6 C1507.8,2074.2 1519.8,2075.2 1528.7,2075.2 C1537.6,2075.2 1549.6,2074.2 1555.5,2072.6 C1561.4,2071.0 1562.7,2066.8 1564.1,2065.6" fill="none" stroke="#000" stroke-width="1.3" /><path d="M1493.3,2064.1 L1493.3,1927.6 L1564.1,1927.6 L1564.1,2064.1" fill="none" stroke="#000" stroke-width="1.6" /><path d="M1498.4,2065.6 L1498.4,1931.7 L1559,1931.7 L1559,2065.6" fill="none" stroke="#000" stroke-width="1.3" /><path d="M1498.4,2064.1 L1500.4,2026.2 L1518.6,2026.2 L1518.6,1986.7 L1538.8,1986.7 L1538.8,2026.2 L1557,2026.2 L1559,2064.1" fill="none" stroke="#000" stroke-width="1.4" /><path d="M1518.6,1990.8 L1538.8,1990.8" fill="none" stroke="#000" stroke-width="1.2" /><path d="M1500.4,2028.7 C1501.9,2033.8 1505.5,2053.1 1509.5,2059 C1513.5,2064.9 1522.2,2063.2 1524.7,2064.1" fill="none" stroke="#000" stroke-width="1.2" /><path d="M1557,2028.7 C1555.4,2033.8 1551.5,2053.1 1547.4,2059 C1543.3,2064.9 1534.7,2063.2 1532.2,2064.1" fill="none" stroke="#000" stroke-width="1.2" /><path d="M1519.6,2051.4 L1538.8,2051.4 L1538.8,2062.5 L1519.6,2062.5Z" fill="none" stroke="#000" stroke-width="1.2" /><path d="M1508.5,1848.3 C1508.2,1846.8 1509.3,1846.6 1507,1839.2 C1504.7,1831.8 1497.8,1816.4 1494.4,1803.8 C1491.0,1791.2 1487.2,1776.9 1486.8,1763.4 C1486.4,1749.9 1488.0,1735.6 1491.8,1723 C1495.6,1710.4 1503.3,1696.2 1509.5,1687.6 C1515.7,1679.0 1522.3,1671.4 1528.7,1671.4 C1535.1,1671.4 1541.8,1679.0 1547.9,1687.6 C1554.0,1696.2 1561.2,1710.4 1565.1,1723 C1569.0,1735.6 1571.4,1749.9 1571.2,1763.4 C1571.0,1776.9 1567.5,1791.2 1564.1,1803.8 C1560.7,1816.4 1553.3,1831.8 1550.9,1839.2 C1548.5,1846.6 1550.1,1846.8 1549.9,1848.3" fill="none" stroke="#000" stroke-width="1.6" /><path d="M1508.5,1848.3 L1549.9,1848.3 L1548.9,1867 L1509.5,1867Z" fill="none" stroke="#000" stroke-width="1.6" /><path d="M1512,1867 L1544.9,1867 L1544.9,1902.4 L1537.3,1909.9 L1528.7,1912.5 L1519.6,1909.9 L1512,1902.4Z" fill="#fff" stroke="#000" stroke-width="1.5" /><line x1="1512" y1="1873.6" x2="1544.9" y2="1870.5" stroke="#000" stroke-width="1.2"/><line x1="1512" y1="1879.6" x2="1544.9" y2="1876.6" stroke="#000" stroke-width="1.2"/><line x1="1512" y1="1885.7" x2="1544.9" y2="1882.6" stroke="#000" stroke-width="1.2"/><line x1="1512" y1="1891.7" x2="1544.9" y2="1888.7" stroke="#000" stroke-width="1.2"/><line x1="1512" y1="1897.8" x2="1544.9" y2="1894.8" stroke="#000" stroke-width="1.2"/><path d="M1513.6,1786.1 L1518.6,1755.8 L1528.7,1783.6 L1538.8,1755.8 L1543.9,1786.1" fill="none" stroke="#000" stroke-width="1.4" /><path d="M1423.6,1519.8 L1633.3,1519.8 L1633.3,1537.5 L1423.6,1537.5Z" fill="none" stroke="#000" stroke-width="1.6" /><path d="M1423.6,1537.5 L1383.2,1796.2" fill="none" stroke="#000" stroke-width="1.6" /><path d="M1633.3,1537.5 L1673.7,1796.2" fill="none" stroke="#000" stroke-width="1.6" /><path d="M1383.2,1796.2 L1673.7,1796.2 L1673.7,1813.9 L1383.2,1813.9Z" fill="none" stroke="#000" stroke-width="1.6" /><path d="M1426.1,1523.4 L1527.2,1536 L1630.8,1523.4" fill="none" stroke="#000" stroke-width="1.4" /><path d="M1426.1,1528.4 L1527.2,1540.1 L1630.8,1528.4" fill="none" stroke="#000" stroke-width="1.4" /><path d="M1520.6,1538.5 L1533.8,1538.5 L1533.8,1542.1 L1520.6,1542.1Z" fill="none" stroke="#000" stroke-width="1.2" /><path d="M1524.7,1541.1 L1482.7,1676.5" fill="none" stroke="#000" stroke-width="5" stroke-linecap="round" stroke-linejoin="round"/><path d="M1524.7,1541.1 L1482.7,1676.5" fill="none" stroke="#fff" stroke-width="2.2" stroke-linecap="round" stroke-linejoin="round"/><path d="M1529.7,1541.1 L1573.7,1676.5" fill="none" stroke="#000" stroke-width="5" stroke-linecap="round" stroke-linejoin="round"/><path d="M1529.7,1541.1 L1573.7,1676.5" fill="none" stroke="#fff" stroke-width="2.2" stroke-linecap="round" stroke-linejoin="round"/></g><g id="right"><g transform="matrix(0.9495,0,0,0.778,2019.4,-8.2)"><path d="M858.5,559.7 L946.1,559.7 L953.3,566.9 L992.1,566.9 L997.9,559.7 L1085.5,559.7 L1089.8,564.1 L1089.8,600.3 L1086.4,602.9 L993.5,602.9 L993.5,605.7 L954.7,605.7 L954.7,602.9 L857.6,602.9 L854.1,600.3 L854.1,564.1Z" fill="none" stroke="#000" stroke-width="1.9" /><path d="M856.2,563.5 L947.6,563.5 L953.9,570.7 L992.1,570.7 L997,563.5 L1087.8,563.5" fill="none" stroke="#000" stroke-width="1.52" /><path d="M951,567.8 L951,602.9" fill="none" stroke="#000" stroke-width="1.52" /><path d="M994.1,567.8 L994.1,602.9" fill="none" stroke="#000" stroke-width="1.52" /><path d="M954.7,572.1 L954.7,605.7" fill="none" stroke="#000" stroke-width="1.52" /><path d="M990.1,572.1 L990.1,605.7" fill="none" stroke="#000" stroke-width="1.52" /><rect x="895.2" y="580.1" width="36" height="6.4" rx="3.2" fill="none" stroke="#000" stroke-width="1.9"/><line x1="897.5" y1="583.3" x2="928.9" y2="583.3" stroke="#000" stroke-width="1.52"/><rect x="1013.1" y="580.1" width="35.1" height="6.4" rx="3.2" fill="none" stroke="#000" stroke-width="1.9"/><line x1="1015.4" y1="583.3" x2="1045.9" y2="583.3" stroke="#000" stroke-width="1.52"/><ellipse cx="873.4" cy="583" rx="6.32366" ry="4.02414" fill="none" stroke="#000" stroke-width="1.9" /><ellipse cx="1070.6" cy="583" rx="6.32366" ry="4.02414" fill="none" stroke="#000" stroke-width="1.9" /><ellipse cx="970.6" cy="587.9" rx="3.44927" ry="2.29951" fill="none" stroke="#000" stroke-width="1.9" /><ellipse cx="968.3" cy="584.451" rx="2.01207" ry="2.01207" fill="none" stroke="#000" stroke-width="1.9" /><ellipse cx="973.474" cy="584.451" rx="2.01207" ry="2.01207" fill="none" stroke="#000" stroke-width="1.9" /><path d="M970.6,590.8 C971.5,593.4 973.7,600.4 975.7,606.6 C977.7,612.8 981.8,622.2 982.6,628.2 C983.4,634.2 983.1,639.1 980.6,642.5 C978.1,645.9 973.0,648.6 967.7,648.3 C962.4,648.0 954.0,644.2 949,640.5 C944.0,636.8 939.4,628.5 937.5,626.1" fill="none" stroke="#000" stroke-width="6" stroke-linecap="butt" stroke-linejoin="round"/><path d="M970.6,590.8 C971.5,593.4 973.7,600.4 975.7,606.6 C977.7,612.8 981.8,622.2 982.6,628.2 C983.4,634.2 983.1,639.1 980.6,642.5 C978.1,645.9 973.0,648.6 967.7,648.3 C962.4,648.0 954.0,644.2 949,640.5 C944.0,636.8 939.4,628.5 937.5,626.1" fill="none" stroke="#fff" stroke-width="2.6" stroke-linecap="butt" stroke-linejoin="round"/><path d="M933.8,624.4 L940.4,622.7" fill="none" stroke="#000" stroke-width="1.6" /></g><g transform="matrix(0.78,0,0,0.76,2149.5,-0.6)"><path d="M903.3,606 L906.2,621 L908.5,658.3 L898.1,658.3 L900.4,621Z" fill="#000" stroke="#000" stroke-width="1.8" /><path d="M892.4,668.4 L914.2,668.4 L913.6,664.7 L906.7,661.2 L899.8,661.2 L892.9,664.7Z" fill="none" stroke="#000" stroke-width="1.8" /><line x1="901.9" y1="662.1" x2="901.9" y2="668.4" stroke="#000" stroke-width="1.44"/><line x1="904.7" y1="662.1" x2="904.7" y2="668.4" stroke="#000" stroke-width="1.44"/><line x1="899.3" y1="625.3" x2="907.3" y2="623" stroke="#888" stroke-width="0.6"/><line x1="899.3" y1="629.3" x2="907.3" y2="627" stroke="#888" stroke-width="0.6"/><line x1="899.3" y1="633.3" x2="907.3" y2="631" stroke="#888" stroke-width="0.6"/><line x1="899.3" y1="637.3" x2="907.3" y2="635.1" stroke="#888" stroke-width="0.6"/><line x1="899.3" y1="641.4" x2="907.3" y2="639.1" stroke="#888" stroke-width="0.6"/><line x1="899.3" y1="645.4" x2="907.3" y2="643.1" stroke="#888" stroke-width="0.6"/><line x1="899.3" y1="649.4" x2="907.3" y2="647.1" stroke="#888" stroke-width="0.6"/><line x1="899.3" y1="653.4" x2="907.3" y2="651.1" stroke="#888" stroke-width="0.6"/><line x1="899.3" y1="657.5" x2="907.3" y2="655.2" stroke="#888" stroke-width="0.6"/></g><g transform="matrix(0.78,0,0,0.76,2326.4,-0.6)"><path d="M903.3,606 L906.2,621 L908.5,658.3 L898.1,658.3 L900.4,621Z" fill="#000" stroke="#000" stroke-width="1.8" /><path d="M892.4,668.4 L914.2,668.4 L913.6,664.7 L906.7,661.2 L899.8,661.2 L892.9,664.7Z" fill="none" stroke="#000" stroke-width="1.8" /><line x1="901.9" y1="662.1" x2="901.9" y2="668.4" stroke="#000" stroke-width="1.44"/><line x1="904.7" y1="662.1" x2="904.7" y2="668.4" stroke="#000" stroke-width="1.44"/><line x1="899.3" y1="625.3" x2="907.3" y2="623" stroke="#888" stroke-width="0.6"/><line x1="899.3" y1="629.3" x2="907.3" y2="627" stroke="#888" stroke-width="0.6"/><line x1="899.3" y1="633.3" x2="907.3" y2="631" stroke="#888" stroke-width="0.6"/><line x1="899.3" y1="637.3" x2="907.3" y2="635.1" stroke="#888" stroke-width="0.6"/><line x1="899.3" y1="641.4" x2="907.3" y2="639.1" stroke="#888" stroke-width="0.6"/><line x1="899.3" y1="645.4" x2="907.3" y2="643.1" stroke="#888" stroke-width="0.6"/><line x1="899.3" y1="649.4" x2="907.3" y2="647.1" stroke="#888" stroke-width="0.6"/><line x1="899.3" y1="653.4" x2="907.3" y2="651.1" stroke="#888" stroke-width="0.6"/><line x1="899.3" y1="657.5" x2="907.3" y2="655.2" stroke="#888" stroke-width="0.6"/></g><g transform="matrix(0.7973,0,0,0.7973,2169.5,-96.9)"><use href="#core"/></g><rect x="2871.7" y="1606.8" width="147.9" height="29.6" fill="#fff" stroke="#000" stroke-width="1.5"/><path d="M2869.9,1636.4 L3020.8,1636.4 L3021.1,1641.9 L3018.4,1644.8 L2873,1644.8 L2869.9,1641.9Z" fill="#fff" stroke="#000" stroke-width="1.5" /><line x1="2871.7" y1="1640.1" x2="3019.6" y2="1640.1" stroke="#000" stroke-width="1.3"/><path d="M2871.7,1645 C2872.7,1645.9 2874.2,1648.9 2877.9,1650.6 C2881.6,1652.2 2889.1,1653.8 2893.9,1654.9 C2898.7,1656.0 2904.7,1656.9 2906.9,1657.3" fill="none" stroke="#000" stroke-width="1.5" /><path d="M3018.9,1645 C3017.9,1645.9 3016.4,1648.9 3012.7,1650.6 C3009.0,1652.2 3001.5,1653.8 2996.7,1654.9 C2991.9,1656.0 2985.9,1656.9 2983.7,1657.3" fill="none" stroke="#000" stroke-width="1.5" /><line x1="2906.9" y1="1657.3" x2="2981.4" y2="1657.3" stroke="#000" stroke-width="1.3"/><path d="M2907.5,1657.6 C2908.4,1659.0 2912.3,1663.7 2913,1666 C2913.7,1668.3 2912.8,1670.0 2911.8,1671.5 C2910.8,1673.0 2907.7,1674.6 2906.9,1675.2" fill="none" stroke="#000" stroke-width="1.5" /><path d="M2983.1,1657.6 C2982.2,1659.0 2978.3,1663.7 2977.6,1666 C2976.9,1668.3 2977.8,1670.0 2978.8,1671.5 C2979.8,1673.0 2982.9,1674.6 2983.7,1675.2" fill="none" stroke="#000" stroke-width="1.5" /><rect x="2906" y="1674.6" width="78.7" height="6.1" rx="3" fill="#fff" stroke="#000" stroke-width="1.5"/><path d="M2908.7,1681.4 C2910.1,1682.6 2914.0,1687.0 2917.3,1688.8 C2920.6,1690.6 2926.6,1691.9 2928.4,1692.5" fill="none" stroke="#000" stroke-width="1.5" /><path d="M2981.9,1681.4 C2980.5,1682.6 2976.6,1687.0 2973.3,1688.8 C2970.0,1690.6 2964.0,1691.9 2962.2,1692.5" fill="none" stroke="#000" stroke-width="1.5" /><rect x="2928.4" y="1692.5" width="33" height="6.1" rx="3" fill="#fff" stroke="#000" stroke-width="1.5"/><path d="M2931.5,1699.2 C2931.1,1700.2 2929.7,1703.6 2929,1705.4 C2928.3,1707.2 2927.5,1709.5 2927.2,1710.3" fill="none" stroke="#000" stroke-width="1.5" /><path d="M2959.1,1699.2 C2959.5,1700.2 2960.9,1703.6 2961.6,1705.4 C2962.3,1707.2 2963.1,1709.5 2963.4,1710.3" fill="none" stroke="#000" stroke-width="1.5" /><line x1="2927.2" y1="1710.3" x2="2962.9" y2="1710.3" stroke="#000" stroke-width="1.3"/><path d="M2927.2,1710.3 C2927.6,1712.6 2928.0,1720.0 2929.7,1723.9 C2931.3,1727.8 2934.5,1731.0 2937.1,1733.7 C2939.7,1736.4 2943.8,1738.9 2945.1,1739.9" fill="none" stroke="#000" stroke-width="1.5" /><path d="M2963.4,1710.3 C2963.0,1712.6 2962.6,1720.0 2960.9,1723.9 C2959.2,1727.8 2956.1,1731.0 2953.5,1733.7 C2950.9,1736.4 2946.8,1738.9 2945.5,1739.9" fill="none" stroke="#000" stroke-width="1.5" /><path d="M2476.8,1269.9 L2643.5,1269.9 L2643.5,1284.1 L2476.8,1284.1Z" fill="none" stroke="#000" stroke-width="1.5" /><path d="M2476.8,1284.1 L2445.7,1491" fill="none" stroke="#000" stroke-width="1.5" /><path d="M2643.5,1284.1 L2675.3,1491" fill="none" stroke="#000" stroke-width="1.5" /><path d="M2478.3,1272.8 L2559,1282.7 L2642.1,1272.8" fill="none" stroke="#000" stroke-width="1.2" /><path d="M2478.3,1276.4 L2559,1284.9 L2642.1,1276.4" fill="none" stroke="#000" stroke-width="1.2" /><path d="M2553.4,1284.1 L2567.6,1284.1 L2567.6,1286.9 L2553.4,1286.9Z" fill="none" stroke="#000" stroke-width="1.1" /><path d="M2558.5,1286.9 L2522.8,1395.5" fill="none" stroke="#000" stroke-width="4.2" stroke-linecap="round" stroke-linejoin="round"/><path d="M2558.5,1286.9 L2522.8,1395.5" fill="none" stroke="#fff" stroke-width="1.8" stroke-linecap="round" stroke-linejoin="round"/><path d="M2562.4,1286.9 L2596.5,1395.5" fill="none" stroke="#000" stroke-width="4.2" stroke-linecap="round" stroke-linejoin="round"/><path d="M2562.4,1286.9 L2596.5,1395.5" fill="none" stroke="#fff" stroke-width="1.8" stroke-linecap="round" stroke-linejoin="round"/><path d="M2543.5,1440 C2542.3,1437.4 2538.8,1431.7 2536.4,1424.4 C2534.0,1417.1 2530.7,1405.5 2529.3,1396.1 C2527.9,1386.6 2527.2,1377.6 2527.9,1367.7 C2528.6,1357.8 2530.2,1346.4 2533.5,1336.5 C2536.8,1326.6 2543.2,1314.8 2547.7,1308.2 C2552.2,1301.6 2556.2,1296.8 2560.5,1296.8 C2564.8,1296.8 2568.7,1301.6 2573.2,1308.2 C2577.7,1314.8 2584.1,1326.6 2587.4,1336.5 C2590.7,1346.4 2592.4,1357.8 2593.1,1367.7 C2593.8,1377.6 2593.0,1386.6 2591.6,1396.1 C2590.2,1405.5 2587.0,1417.1 2584.6,1424.4 C2582.2,1431.7 2578.2,1437.4 2576.9,1440" fill="none" stroke="#000" stroke-width="1.5" /><path d="M2532.1,1440 L2532.1,1553.4" fill="none" stroke="#000" stroke-width="1.5" /><path d="M2588,1440 L2588,1553.4" fill="none" stroke="#000" stroke-width="1.5" /><path d="M2536.4,1441.4 L2536.4,1552" fill="none" stroke="#000" stroke-width="1.2" /><path d="M2584,1441.4 L2584,1552" fill="none" stroke="#000" stroke-width="1.2" /><path d="M2532.1,1440 L2588,1440" fill="none" stroke="#000" stroke-width="1.4" /><path d="M2543.5,1440 L2543.5,1455.6 L2576.9,1455.6 L2576.9,1440" fill="none" stroke="#000" stroke-width="1.5" /><path d="M2547.1,1455.6 L2547.1,1483.9 L2553.4,1489.6 L2567.6,1489.6 L2573.2,1483.9 L2573.2,1455.6" fill="#fff" stroke="#000" stroke-width="1.4" /><line x1="2547.1" y1="1459.8" x2="2573.2" y2="1458.4" stroke="#000" stroke-width="1.1"/><line x1="2547.1" y1="1463.8" x2="2573.2" y2="1462.4" stroke="#000" stroke-width="1.1"/><line x1="2547.1" y1="1467.8" x2="2573.2" y2="1466.3" stroke="#000" stroke-width="1.1"/><line x1="2547.1" y1="1471.7" x2="2573.2" y2="1470.3" stroke="#000" stroke-width="1.1"/><line x1="2547.1" y1="1475.7" x2="2573.2" y2="1474.3" stroke="#000" stroke-width="1.1"/><line x1="2547.1" y1="1479.7" x2="2573.2" y2="1478.3" stroke="#000" stroke-width="1.1"/><line x1="2547.1" y1="1483.6" x2="2573.2" y2="1482.2" stroke="#000" stroke-width="1.1"/><path d="M2547.1,1389 L2550.5,1364.9 L2559.6,1387.6 L2569,1364.9 L2572.4,1389" fill="none" stroke="#000" stroke-width="1.3" /><path d="M2444.3,1491 L2676.7,1491 L2676.7,1503.8 L2444.3,1503.8Z" fill="none" stroke="#000" stroke-width="1.5" /><path d="M2537.8,1546.3 L2539.2,1517.9 L2552,1517.9 L2552,1491" fill="none" stroke="#000" stroke-width="1.2" /><path d="M2582.6,1546.3 L2581.2,1517.9 L2569,1517.9 L2569,1491" fill="none" stroke="#000" stroke-width="1.2" /><path d="M2552,1546.3 L2552,1539.2 L2569,1539.2 L2569,1546.3" fill="none" stroke="#000" stroke-width="1.2" /><rect x="2504.6" y="1542" width="111.1" height="7.1" rx="3.5" fill="none" stroke="#000" stroke-width="1.5"/><path d="M2526.5,1549.7 C2527.7,1550.8 2527.8,1554.7 2533.5,1556.2 C2539.2,1557.8 2551.5,1559.0 2560.5,1559 C2569.5,1559.0 2582.0,1557.8 2587.4,1556.2 C2592.8,1554.7 2592.2,1550.8 2593.1,1549.7" fill="none" stroke="#000" stroke-width="1.5" /><ellipse cx="2560.5" cy="1569" rx="15.6" ry="7.9" fill="#fff" stroke="#000" stroke-width="1.5" /><path d="M2537.8,1576 L2537.8,1588.8" fill="none" stroke="#000" stroke-width="1.5" /><path d="M2537.8,1576 C2544.2,1576.5 2559.3,1573.9 2576.1,1578.9 C2592.9,1583.9 2618.6,1594.2 2638.4,1605.8 C2658.2,1617.4 2676.2,1637.4 2695.1,1648.3 C2714.0,1659.2 2735.3,1667.2 2751.8,1671 C2768.3,1674.8 2780.1,1674.3 2794.3,1671 C2808.5,1667.7 2825.9,1657.4 2836.8,1651.2 C2847.7,1645.0 2855.7,1636.9 2859.5,1634.1" fill="none" stroke="#000" stroke-width="1.5" /><path d="M2537.8,1588.8 C2549.9,1592.1 2585.3,1597.3 2610.1,1608.6 C2634.9,1619.9 2665.3,1644.5 2686.6,1656.8 C2707.8,1669.1 2722.0,1677.3 2737.6,1682.3 C2753.2,1687.3 2765.9,1687.1 2780.1,1686.6 C2794.3,1686.1 2811.3,1683.5 2822.7,1679.5 C2834.0,1675.5 2841.8,1670.1 2848.2,1662.5 C2854.6,1654.9 2858.8,1638.8 2860.9,1634.1" fill="none" stroke="#000" stroke-width="1.5" /><path d="M2559,1583.1 C2570.3,1586.6 2605.1,1592.8 2627.1,1604.4 C2649.1,1616.0 2671.3,1640.5 2690.9,1652.6 C2710.5,1664.6 2728.6,1672.3 2744.7,1676.7 C2760.8,1681.1 2773.0,1680.8 2787.2,1678.9 C2801.4,1677.0 2818.6,1670.4 2829.7,1665.3 C2840.8,1660.2 2848.7,1653.5 2853.8,1648.3 C2858.9,1643.1 2859.1,1636.5 2860.1,1634.1" fill="none" stroke="#000" stroke-width="1.1" stroke-dasharray="10,7"/><path d="M2635.6,1620 C2631.3,1618.1 2621.4,1611.9 2610.1,1608.6 C2598.8,1605.3 2581.8,1601.5 2567.6,1600.1 C2553.4,1598.7 2535.4,1599.4 2525,1600.1 C2514.6,1600.8 2511.1,1602.0 2505.2,1604.4 C2499.3,1606.8 2493.4,1610.8 2489.6,1614.3 C2485.8,1617.8 2484.2,1621.3 2482.5,1625.6 C2480.8,1629.8 2479.7,1635.1 2479.7,1639.8 C2479.7,1644.5 2480.1,1649.8 2482.5,1654 C2484.9,1658.2 2490.1,1662.9 2493.9,1665.3 C2497.7,1667.7 2501.7,1668.4 2505.2,1668.2 C2508.7,1668.0 2513.2,1663.9 2515.1,1663.9 C2517.0,1663.9 2518.6,1666.3 2516.5,1668.2 C2514.4,1670.1 2507.1,1673.8 2502.4,1675.2 C2497.7,1676.6 2491.5,1677.4 2488.2,1676.7 C2484.9,1676.0 2484.6,1672.9 2482.5,1671 C2480.4,1669.1 2477.3,1667.7 2475.4,1665.3 C2473.5,1662.9 2472.4,1658.7 2471.2,1656.8 C2470.0,1654.9 2469.0,1656.3 2468.3,1654 C2467.6,1651.7 2467.6,1646.0 2466.9,1642.7 C2466.2,1639.4 2464.1,1636.5 2464.1,1634.1 C2464.1,1631.7 2465.7,1631.8 2466.9,1628.5 C2468.1,1625.2 2469.5,1617.8 2471.2,1614.3 C2472.8,1610.8 2474.4,1609.6 2476.8,1607.2 C2479.2,1604.8 2482.1,1602.0 2485.4,1600.1 C2488.7,1598.2 2492.4,1596.8 2496.7,1595.9 C2500.9,1595.0 2506.2,1595.5 2510.9,1594.5 C2515.6,1593.5 2520.5,1591.2 2525,1590.2 C2529.5,1589.2 2535.7,1589.0 2537.8,1588.8" fill="none" stroke="#000" stroke-width="1.5" /><path d="M2870.8,1607.2 L2870.8,1634.1 L2851,1634.1 L2848.2,1634.1 Q2838.2,1634.1 2838.2,1625.6 L2838.2,1615.7 Q2838.2,1607.2 2848.2,1607.2 Z" fill="#fff" stroke="#000" stroke-width="4.2" /><path d="M2845.3,1611.5 L2870.8,1611.5 L2870.8,1629.9 L2845.3,1629.9Z" fill="none" stroke="#000" stroke-width="1.3" /><path d="M2849.6,1611.5 L2849.6,1629.9" fill="none" stroke="#000" stroke-width="1.2" /><g transform="translate(5890.6,0) scale(-1,1)"><path d="M2476.8,1269.9 L2643.5,1269.9 L2643.5,1284.1 L2476.8,1284.1Z" fill="none" stroke="#000" stroke-width="1.5" /><path d="M2476.8,1284.1 L2445.7,1491" fill="none" stroke="#000" stroke-width="1.5" /><path d="M2643.5,1284.1 L2675.3,1491" fill="none" stroke="#000" stroke-width="1.5" /><path d="M2478.3,1272.8 L2559,1282.7 L2642.1,1272.8" fill="none" stroke="#000" stroke-width="1.2" /><path d="M2478.3,1276.4 L2559,1284.9 L2642.1,1276.4" fill="none" stroke="#000" stroke-width="1.2" /><path d="M2553.4,1284.1 L2567.6,1284.1 L2567.6,1286.9 L2553.4,1286.9Z" fill="none" stroke="#000" stroke-width="1.1" /><path d="M2558.5,1286.9 L2522.8,1395.5" fill="none" stroke="#000" stroke-width="4.2" stroke-linecap="round" stroke-linejoin="round"/><path d="M2558.5,1286.9 L2522.8,1395.5" fill="none" stroke="#fff" stroke-width="1.8" stroke-linecap="round" stroke-linejoin="round"/><path d="M2562.4,1286.9 L2596.5,1395.5" fill="none" stroke="#000" stroke-width="4.2" stroke-linecap="round" stroke-linejoin="round"/><path d="M2562.4,1286.9 L2596.5,1395.5" fill="none" stroke="#fff" stroke-width="1.8" stroke-linecap="round" stroke-linejoin="round"/><path d="M2543.5,1440 C2542.3,1437.4 2538.8,1431.7 2536.4,1424.4 C2534.0,1417.1 2530.7,1405.5 2529.3,1396.1 C2527.9,1386.6 2527.2,1377.6 2527.9,1367.7 C2528.6,1357.8 2530.2,1346.4 2533.5,1336.5 C2536.8,1326.6 2543.2,1314.8 2547.7,1308.2 C2552.2,1301.6 2556.2,1296.8 2560.5,1296.8 C2564.8,1296.8 2568.7,1301.6 2573.2,1308.2 C2577.7,1314.8 2584.1,1326.6 2587.4,1336.5 C2590.7,1346.4 2592.4,1357.8 2593.1,1367.7 C2593.8,1377.6 2593.0,1386.6 2591.6,1396.1 C2590.2,1405.5 2587.0,1417.1 2584.6,1424.4 C2582.2,1431.7 2578.2,1437.4 2576.9,1440" fill="none" stroke="#000" stroke-width="1.5" /><path d="M2532.1,1440 L2532.1,1553.4" fill="none" stroke="#000" stroke-width="1.5" /><path d="M2588,1440 L2588,1553.4" fill="none" stroke="#000" stroke-width="1.5" /><path d="M2536.4,1441.4 L2536.4,1552" fill="none" stroke="#000" stroke-width="1.2" /><path d="M2584,1441.4 L2584,1552" fill="none" stroke="#000" stroke-width="1.2" /><path d="M2532.1,1440 L2588,1440" fill="none" stroke="#000" stroke-width="1.4" /><path d="M2543.5,1440 L2543.5,1455.6 L2576.9,1455.6 L2576.9,1440" fill="none" stroke="#000" stroke-width="1.5" /><path d="M2547.1,1455.6 L2547.1,1483.9 L2553.4,1489.6 L2567.6,1489.6 L2573.2,1483.9 L2573.2,1455.6" fill="#fff" stroke="#000" stroke-width="1.4" /><line x1="2547.1" y1="1459.8" x2="2573.2" y2="1458.4" stroke="#000" stroke-width="1.1"/><line x1="2547.1" y1="1463.8" x2="2573.2" y2="1462.4" stroke="#000" stroke-width="1.1"/><line x1="2547.1" y1="1467.8" x2="2573.2" y2="1466.3" stroke="#000" stroke-width="1.1"/><line x1="2547.1" y1="1471.7" x2="2573.2" y2="1470.3" stroke="#000" stroke-width="1.1"/><line x1="2547.1" y1="1475.7" x2="2573.2" y2="1474.3" stroke="#000" stroke-width="1.1"/><line x1="2547.1" y1="1479.7" x2="2573.2" y2="1478.3" stroke="#000" stroke-width="1.1"/><line x1="2547.1" y1="1483.6" x2="2573.2" y2="1482.2" stroke="#000" stroke-width="1.1"/><path d="M2547.1,1389 L2550.5,1364.9 L2559.6,1387.6 L2569,1364.9 L2572.4,1389" fill="none" stroke="#000" stroke-width="1.3" /><path d="M2444.3,1491 L2676.7,1491 L2676.7,1503.8 L2444.3,1503.8Z" fill="none" stroke="#000" stroke-width="1.5" /><path d="M2537.8,1546.3 L2539.2,1517.9 L2552,1517.9 L2552,1491" fill="none" stroke="#000" stroke-width="1.2" /><path d="M2582.6,1546.3 L2581.2,1517.9 L2569,1517.9 L2569,1491" fill="none" stroke="#000" stroke-width="1.2" /><path d="M2552,1546.3 L2552,1539.2 L2569,1539.2 L2569,1546.3" fill="none" stroke="#000" stroke-width="1.2" /><rect x="2504.6" y="1542" width="111.1" height="7.1" rx="3.5" fill="none" stroke="#000" stroke-width="1.5"/><path d="M2526.5,1549.7 C2527.7,1550.8 2527.8,1554.7 2533.5,1556.2 C2539.2,1557.8 2551.5,1559.0 2560.5,1559 C2569.5,1559.0 2582.0,1557.8 2587.4,1556.2 C2592.8,1554.7 2592.2,1550.8 2593.1,1549.7" fill="none" stroke="#000" stroke-width="1.5" /><ellipse cx="2560.5" cy="1569" rx="15.6" ry="7.9" fill="#fff" stroke="#000" stroke-width="1.5" /><path d="M2537.8,1576 L2537.8,1588.8" fill="none" stroke="#000" stroke-width="1.5" /><path d="M2537.8,1576 C2544.2,1576.5 2559.3,1573.9 2576.1,1578.9 C2592.9,1583.9 2618.6,1594.2 2638.4,1605.8 C2658.2,1617.4 2676.2,1637.4 2695.1,1648.3 C2714.0,1659.2 2735.3,1667.2 2751.8,1671 C2768.3,1674.8 2780.1,1674.3 2794.3,1671 C2808.5,1667.7 2825.9,1657.4 2836.8,1651.2 C2847.7,1645.0 2855.7,1636.9 2859.5,1634.1" fill="none" stroke="#000" stroke-width="1.5" /><path d="M2537.8,1588.8 C2549.9,1592.1 2585.3,1597.3 2610.1,1608.6 C2634.9,1619.9 2665.3,1644.5 2686.6,1656.8 C2707.8,1669.1 2722.0,1677.3 2737.6,1682.3 C2753.2,1687.3 2765.9,1687.1 2780.1,1686.6 C2794.3,1686.1 2811.3,1683.5 2822.7,1679.5 C2834.0,1675.5 2841.8,1670.1 2848.2,1662.5 C2854.6,1654.9 2858.8,1638.8 2860.9,1634.1" fill="none" stroke="#000" stroke-width="1.5" /><path d="M2559,1583.1 C2570.3,1586.6 2605.1,1592.8 2627.1,1604.4 C2649.1,1616.0 2671.3,1640.5 2690.9,1652.6 C2710.5,1664.6 2728.6,1672.3 2744.7,1676.7 C2760.8,1681.1 2773.0,1680.8 2787.2,1678.9 C2801.4,1677.0 2818.6,1670.4 2829.7,1665.3 C2840.8,1660.2 2848.7,1653.5 2853.8,1648.3 C2858.9,1643.1 2859.1,1636.5 2860.1,1634.1" fill="none" stroke="#000" stroke-width="1.1" stroke-dasharray="10,7"/><path d="M2635.6,1620 C2631.3,1618.1 2621.4,1611.9 2610.1,1608.6 C2598.8,1605.3 2581.8,1601.5 2567.6,1600.1 C2553.4,1598.7 2535.4,1599.4 2525,1600.1 C2514.6,1600.8 2511.1,1602.0 2505.2,1604.4 C2499.3,1606.8 2493.4,1610.8 2489.6,1614.3 C2485.8,1617.8 2484.2,1621.3 2482.5,1625.6 C2480.8,1629.8 2479.7,1635.1 2479.7,1639.8 C2479.7,1644.5 2480.1,1649.8 2482.5,1654 C2484.9,1658.2 2490.1,1662.9 2493.9,1665.3 C2497.7,1667.7 2501.7,1668.4 2505.2,1668.2 C2508.7,1668.0 2513.2,1663.9 2515.1,1663.9 C2517.0,1663.9 2518.6,1666.3 2516.5,1668.2 C2514.4,1670.1 2507.1,1673.8 2502.4,1675.2 C2497.7,1676.6 2491.5,1677.4 2488.2,1676.7 C2484.9,1676.0 2484.6,1672.9 2482.5,1671 C2480.4,1669.1 2477.3,1667.7 2475.4,1665.3 C2473.5,1662.9 2472.4,1658.7 2471.2,1656.8 C2470.0,1654.9 2469.0,1656.3 2468.3,1654 C2467.6,1651.7 2467.6,1646.0 2466.9,1642.7 C2466.2,1639.4 2464.1,1636.5 2464.1,1634.1 C2464.1,1631.7 2465.7,1631.8 2466.9,1628.5 C2468.1,1625.2 2469.5,1617.8 2471.2,1614.3 C2472.8,1610.8 2474.4,1609.6 2476.8,1607.2 C2479.2,1604.8 2482.1,1602.0 2485.4,1600.1 C2488.7,1598.2 2492.4,1596.8 2496.7,1595.9 C2500.9,1595.0 2506.2,1595.5 2510.9,1594.5 C2515.6,1593.5 2520.5,1591.2 2525,1590.2 C2529.5,1589.2 2535.7,1589.0 2537.8,1588.8" fill="none" stroke="#000" stroke-width="1.5" /><path d="M2870.8,1607.2 L2870.8,1634.1 L2851,1634.1 L2848.2,1634.1 Q2838.2,1634.1 2838.2,1625.6 L2838.2,1615.7 Q2838.2,1607.2 2848.2,1607.2 Z" fill="#fff" stroke="#000" stroke-width="4.2" /><path d="M2845.3,1611.5 L2870.8,1611.5 L2870.8,1629.9 L2845.3,1629.9Z" fill="none" stroke="#000" stroke-width="1.3" /><path d="M2849.6,1611.5 L2849.6,1629.9" fill="none" stroke="#000" stroke-width="1.2" /></g><g stroke="#000" stroke-width="1.4" fill="none"><line x1="2366" y1="1007" x2="2936.2" y2="1007"/><line x1="2366" y1="1738.5" x2="2938.9" y2="1738.5"/><line x1="2380.6" y1="1007.1" x2="2380.6" y2="1738.8"/><line x1="2444.2" y1="1511" x2="2444.2" y2="1822.8"/><line x1="3445.6" y1="1511" x2="3445.6" y2="1822.8"/><line x1="2444.2" y1="1810.4" x2="3445.6" y2="1810.4"/></g><g fill="#000"><path d="M2380.6,1007.1 L2375.2,1037 L2386,1037 Z"/><path d="M2380.6,1738.8 L2375.2,1709 L2386,1709 Z"/><path d="M2444.2,1810.4 L2474,1805 L2474,1815.8 Z"/><path d="M3445.6,1810.4 L3415.8,1805 L3415.8,1815.8 Z"/></g><text transform="translate(2374,1374) rotate(-90)" font-size="43" font-weight="bold" text-anchor="middle" style="fill:#000">370</text><text x="2945" y="1802.8" font-size="43" font-weight="bold" text-anchor="middle" style="fill:#000">Ø540</text></g><path d="M2384.4,2259.2 L2384.4,2225.6 L2358.9,2167.2  C2358.7,2165.0 2356.9,2159.3 2357.4,2153.9 C2357.9,2148.5 2358.8,2140.7 2362.2,2134.7 C2365.6,2128.7 2370.5,2121.8 2377.7,2117.7 C2384.9,2113.6 2396.4,2110.4 2405.5,2110.3 C2414.6,2110.2 2425.3,2113.3 2432.4,2117 C2439.5,2120.7 2444.2,2126.3 2447.9,2132.5 C2451.6,2138.7 2453.7,2148.1 2454.6,2153.9 C2455.5,2159.7 2453.3,2165.0 2453.1,2167.2 L2426.5,2225.6 L2426.5,2259.2 Z" fill="none" stroke="#231f20" stroke-width="4.3" stroke-linejoin="miter"/><path d="M2387,2169.1 L2424,2169.1 L2405.5,2217.5Z" fill="none" stroke="#231f20" stroke-width="4.3"/><rect x="2382.9" y="2278.1" width="45.1" height="20" fill="none" stroke="#231f20" stroke-width="4.3"/><g fill="#231f20" stroke="none"><path d="M3220.8,2000.6 C3219.5,2000.6 3218.4,2005.7 3216.8,2008.3 C3215.2,2010.9 3212.4,2013.8 3211.1,2016.3 C3209.8,2018.8 3208.9,2021.2 3208.8,2023.6 C3208.8,2026.0 3209.7,2028.6 3210.8,2030.9 C3211.9,2033.2 3214.8,2035.1 3215.5,2037.5 C3216.2,2039.9 3215.3,2042.6 3215.1,2045.5 C3214.9,2048.4 3214.3,2050.8 3214.1,2054.8 C3213.9,2058.8 3213.6,2065.9 3214.1,2069.4 C3214.6,2072.9 3215.7,2074.2 3216.8,2075.8 C3217.9,2077.4 3219.5,2079.0 3220.8,2079 C3222.1,2079.0 3223.7,2077.4 3224.8,2075.8 C3225.9,2074.2 3227.0,2072.9 3227.4,2069.4 C3227.8,2065.9 3227.6,2058.8 3227.4,2054.8 C3227.2,2050.8 3226.7,2048.4 3226.5,2045.5 C3226.3,2042.6 3225.4,2039.9 3226.1,2037.5 C3226.8,2035.1 3229.6,2033.2 3230.7,2030.9 C3231.8,2028.6 3232.7,2026.0 3232.7,2023.6 C3232.7,2021.2 3231.8,2018.8 3230.5,2016.3 C3229.2,2013.8 3226.4,2010.9 3224.8,2008.3 C3223.2,2005.7 3222.1,2000.6 3220.8,2000.6Z"/><path d="M3191.5,2017.8 C3192.1,2017.1 3194.3,2021.7 3196.2,2022.9 C3198.1,2024.1 3201.0,2023.9 3202.8,2024.9 C3204.6,2025.9 3205.7,2027.5 3206.8,2028.9 C3207.9,2030.3 3208.2,2032.4 3209.2,2033.5 C3210.2,2034.6 3211.8,2034.8 3212.8,2035.5 C3213.8,2036.2 3214.7,2035.7 3215.1,2037.5 C3215.5,2039.3 3216.2,2045.2 3215.5,2046.1 C3214.8,2047.0 3212.9,2044.0 3210.8,2042.8 C3208.7,2041.6 3205.2,2040.3 3202.8,2038.8 C3200.4,2037.2 3197.8,2035.5 3196.2,2033.5 C3194.5,2031.5 3193.7,2029.5 3192.9,2026.9 C3192.1,2024.3 3190.9,2018.5 3191.5,2017.8Z"/><path d="M3250,2017.8 C3249.4,2017.1 3247.2,2021.7 3245.3,2022.9 C3243.4,2024.1 3240.5,2023.9 3238.7,2024.9 C3236.9,2025.9 3235.8,2027.5 3234.7,2028.9 C3233.6,2030.3 3233.3,2032.4 3232.3,2033.5 C3231.3,2034.6 3229.7,2034.8 3228.7,2035.5 C3227.7,2036.2 3226.9,2035.7 3226.5,2037.5 C3226.1,2039.3 3225.4,2045.2 3226.1,2046.1 C3226.8,2047.0 3228.6,2044.0 3230.7,2042.8 C3232.8,2041.6 3236.3,2040.3 3238.7,2038.8 C3241.1,2037.2 3243.6,2035.5 3245.3,2033.5 C3247.0,2031.5 3247.9,2029.5 3248.7,2026.9 C3249.5,2024.3 3250.6,2018.5 3250,2017.8Z"/></g><path d="M3208.2,2030.9 C3208.3,2029.7 3209.7,2028.1 3210.5,2028.2 C3211.3,2028.3 3212.3,2030.3 3212.8,2031.5 C3213.3,2032.7 3213.9,2034.8 3213.5,2035.5 C3213.1,2036.2 3211.0,2036.3 3210.1,2035.5 C3209.2,2034.7 3208.1,2032.1 3208.2,2030.9Z" fill="#fff"/><path d="M3233.4,2030.9 C3233.3,2029.7 3231.8,2028.1 3231,2028.2 C3230.2,2028.3 3229.2,2030.3 3228.7,2031.5 C3228.2,2032.7 3227.6,2034.8 3228.1,2035.5 C3228.6,2036.2 3230.5,2036.3 3231.4,2035.5 C3232.3,2034.7 3233.5,2032.1 3233.4,2030.9Z" fill="#fff"/><path d="M3220.8,2078.7 L3220.8,2159.7" fill="none" stroke="#231f20" stroke-width="1.9" stroke-linecap="round"/><path d="M3213.5,2014.9 C3212.6,2013.4 3210.2,2007.7 3208.2,2005.6 C3206.2,2003.5 3203.6,2002.7 3201.5,2002.3 C3199.4,2001.9 3196.9,2002.3 3195.5,2003.2 C3194.1,2004.1 3192.9,2006.2 3192.9,2007.6 C3192.9,2009.0 3194.4,2011.1 3195.5,2011.6 C3196.6,2012.0 3198.9,2011.0 3199.5,2010.3 C3200.1,2009.6 3199.0,2008.0 3198.9,2007.6" fill="none" stroke="#231f20" stroke-width="1.6" stroke-linecap="round"/><path d="M3228.1,2014.9 C3229.0,2013.4 3231.4,2007.7 3233.4,2005.6 C3235.4,2003.5 3237.9,2002.7 3240,2002.3 C3242.1,2001.9 3244.6,2002.3 3246,2003.2 C3247.4,2004.1 3248.7,2006.2 3248.7,2007.6 C3248.7,2009.0 3247.1,2011.1 3246,2011.6 C3244.9,2012.0 3242.6,2011.0 3242,2010.3 C3241.4,2009.6 3242.6,2008.0 3242.7,2007.6" fill="none" stroke="#231f20" stroke-width="1.6" stroke-linecap="round"/><path d="M3197.5,2182.3 C3198.8,2181.8 3202.8,2179.2 3205.5,2179 C3208.2,2178.8 3211.4,2179.3 3213.5,2181 C3215.6,2182.7 3217.7,2186.1 3218.1,2188.9 C3218.5,2191.7 3217.4,2196.1 3216.1,2197.6 C3214.8,2199.1 3211.5,2199.0 3210.1,2198.2 C3208.7,2197.4 3207.4,2194.2 3207.5,2192.9 C3207.6,2191.6 3210.2,2190.7 3210.8,2190.3" fill="none" stroke="#231f20" stroke-width="1.6" stroke-linecap="round"/><path d="M3244,2182.3 C3242.7,2181.8 3238.7,2179.2 3236,2179 C3233.3,2178.8 3230.2,2179.3 3228.1,2181 C3226.0,2182.7 3223.8,2186.1 3223.4,2188.9 C3223.0,2191.7 3224.1,2196.1 3225.4,2197.6 C3226.7,2199.1 3230.0,2199.0 3231.4,2198.2 C3232.8,2197.4 3234.2,2194.2 3234.1,2192.9 C3234.0,2191.6 3231.3,2190.7 3230.7,2190.3" fill="none" stroke="#231f20" stroke-width="1.6" stroke-linecap="round"/><circle cx="3196.9" cy="2008.3" r="3.6" fill="#231f20"/><circle cx="3244.7" cy="2008.3" r="3.6" fill="#231f20"/><circle cx="3211.1" cy="2191.9" r="2.6" fill="#231f20"/><circle cx="3230.5" cy="2191.9" r="2.6" fill="#231f20"/><path d="M3139.1,2179 C3137.1,2176.9 3131.3,2169.8 3127.1,2166.4 C3122.9,2163.0 3118.2,2160.1 3113.8,2158.4 C3109.4,2156.7 3105.2,2156.1 3100.6,2156.4 C3095.9,2156.7 3090.1,2158.1 3085.9,2160.4 C3081.7,2162.7 3077.4,2166.9 3075.3,2170.3 C3073.2,2173.7 3072.6,2177.7 3073.3,2181 C3074.0,2184.3 3077.0,2188.4 3079.3,2190.3 C3081.6,2192.2 3085.1,2193.0 3087.3,2192.3 C3089.5,2191.6 3092.2,2188.3 3092.6,2186.3 C3093.0,2184.3 3090.3,2181.3 3089.9,2180.3" fill="none" stroke="#231f20" stroke-width="5.6" stroke-linecap="round"/><path d="M3302.5,2179 C3304.5,2176.9 3310.2,2169.8 3314.4,2166.4 C3318.6,2163.0 3323.3,2160.1 3327.7,2158.4 C3332.1,2156.7 3336.3,2156.1 3341,2156.4 C3345.7,2156.7 3351.4,2158.1 3355.6,2160.4 C3359.8,2162.7 3364.1,2166.9 3366.2,2170.3 C3368.3,2173.7 3368.9,2177.7 3368.2,2181 C3367.5,2184.3 3364.5,2188.4 3362.2,2190.3 C3359.9,2192.2 3356.5,2193.0 3354.3,2192.3 C3352.1,2191.6 3349.4,2188.3 3349,2186.3 C3348.6,2184.3 3351.2,2181.3 3351.6,2180.3" fill="none" stroke="#231f20" stroke-width="5.6" stroke-linecap="round"/><path d="M3150,2105.3 C3149.6,2105.0 3150.7,2100.2 3152.7,2097.9 C3154.7,2095.7 3159.0,2092.4 3162,2091.8 C3165.0,2091.2 3168.3,2092.2 3170.6,2094.2 C3172.8,2096.1 3174.6,2100.4 3175.5,2103.5 C3176.4,2106.6 3176.2,2109.6 3176.1,2112.7 C3176.0,2115.8 3174.2,2120.2 3174.9,2122 C3175.6,2123.8 3178.6,2122.3 3180.5,2123.2 C3182.4,2124.1 3185.0,2125.7 3186.6,2127.5 C3188.2,2129.3 3189.4,2131.9 3190,2134.3 C3190.6,2136.7 3190.4,2139.2 3190,2141.7 C3189.6,2144.2 3189.3,2146.5 3187.8,2149.1 C3186.3,2151.7 3182.3,2157.0 3181.1,2157.1 C3179.9,2157.2 3181.2,2152.2 3180.8,2149.7 C3180.4,2147.2 3179.9,2144.5 3178.6,2142.3 C3177.3,2140.2 3175.4,2137.6 3173.1,2136.8 C3170.8,2136.0 3167.5,2136.6 3165,2137.4 C3162.5,2138.2 3160.3,2139.8 3158.3,2141.7 C3156.3,2143.6 3154.1,2146.2 3153,2149.1 C3151.9,2152.0 3151.3,2155.8 3151.5,2158.9 C3151.7,2162.0 3152.5,2165.0 3154,2167.6 C3155.5,2170.2 3157.8,2172.6 3160.7,2174.3 C3163.6,2176.0 3167.4,2177.4 3171.2,2178 C3175.0,2178.6 3179.4,2178.6 3183.5,2178 C3187.6,2177.4 3193.7,2174.6 3195.9,2174.3 C3198.1,2174.0 3198.2,2175.0 3196.5,2176.1 C3194.8,2177.2 3189.3,2180.0 3185.4,2181.1 C3181.5,2182.2 3177.2,2182.5 3173.1,2182.4 C3169.0,2182.3 3164.6,2181.7 3160.7,2180.5 C3156.8,2179.3 3153.1,2177.6 3149.6,2175 C3146.1,2172.4 3142.7,2168.7 3139.8,2165.1 C3136.9,2161.5 3133.7,2157.0 3132.4,2153.4 C3131.1,2149.8 3131.2,2146.9 3131.8,2143.5 C3132.4,2140.1 3133.6,2136.5 3136.1,2133.1 C3138.6,2129.7 3143.3,2126.1 3146.6,2123.2 C3149.9,2120.3 3153.6,2118.1 3155.8,2115.8 C3158.1,2113.5 3159.5,2111.8 3160.1,2109.6 C3160.7,2107.4 3160.3,2104.5 3159.5,2102.9 C3158.7,2101.3 3156.8,2099.4 3155.2,2099.8 C3153.6,2100.2 3150.4,2105.6 3150,2105.3Z" fill="#231f20"/><path d="M3291.3,2105.3 C3291.7,2105.0 3290.5,2100.2 3288.5,2097.9 C3286.5,2095.7 3282.3,2092.4 3279.3,2091.8 C3276.3,2091.2 3273.0,2092.2 3270.7,2094.2 C3268.4,2096.1 3266.6,2100.4 3265.7,2103.5 C3264.8,2106.6 3265.0,2109.6 3265.1,2112.7 C3265.2,2115.8 3267.0,2120.2 3266.3,2122 C3265.6,2123.8 3262.8,2122.3 3260.8,2123.2 C3258.9,2124.1 3256.2,2125.7 3254.6,2127.5 C3253.0,2129.3 3251.8,2131.9 3251.2,2134.3 C3250.6,2136.7 3250.8,2139.2 3251.2,2141.7 C3251.6,2144.2 3251.9,2146.5 3253.4,2149.1 C3254.9,2151.7 3259.0,2157.0 3260.2,2157.1 C3261.4,2157.2 3260.1,2152.2 3260.5,2149.7 C3260.9,2147.2 3261.3,2144.5 3262.6,2142.3 C3263.9,2140.2 3265.9,2137.6 3268.2,2136.8 C3270.5,2136.0 3273.7,2136.6 3276.2,2137.4 C3278.7,2138.2 3281.0,2139.8 3283,2141.7 C3285.0,2143.6 3287.1,2146.2 3288.2,2149.1 C3289.3,2152.0 3290.0,2155.8 3289.8,2158.9 C3289.7,2162.0 3288.9,2165.0 3287.3,2167.6 C3285.8,2170.2 3283.4,2172.6 3280.5,2174.3 C3277.6,2176.0 3273.8,2177.4 3270,2178 C3266.2,2178.6 3261.8,2178.6 3257.7,2178 C3253.6,2177.4 3247.6,2174.6 3245.4,2174.3 C3243.2,2174.0 3243.1,2175.0 3244.8,2176.1 C3246.6,2177.2 3252.0,2180.0 3255.9,2181.1 C3259.8,2182.2 3264.1,2182.5 3268.2,2182.4 C3272.3,2182.3 3276.6,2181.7 3280.5,2180.5 C3284.4,2179.3 3288.1,2177.6 3291.6,2175 C3295.1,2172.4 3298.6,2168.7 3301.5,2165.1 C3304.4,2161.5 3307.6,2157.0 3308.9,2153.4 C3310.2,2149.8 3310.1,2146.9 3309.5,2143.5 C3308.9,2140.1 3307.7,2136.5 3305.2,2133.1 C3302.7,2129.7 3298.0,2126.1 3294.7,2123.2 C3291.4,2120.3 3287.7,2118.1 3285.4,2115.8 C3283.1,2113.5 3281.7,2111.8 3281.1,2109.6 C3280.5,2107.4 3280.9,2104.5 3281.7,2102.9 C3282.5,2101.3 3284.5,2099.4 3286.1,2099.8 C3287.7,2100.2 3290.9,2105.6 3291.3,2105.3Z" fill="#231f20"/><path d="M3164.4,2137.7 C3166.7,2134.8 3169.7,2137.2 3171.8,2138 C3173.9,2138.8 3175.7,2140.4 3176.8,2142.3 C3177.9,2144.2 3178.5,2147.1 3178.6,2149.7 C3178.7,2152.3 3178.4,2155.3 3177.4,2157.7 C3176.4,2160.1 3174.5,2162.6 3172.4,2163.9 C3170.3,2165.2 3167.2,2165.5 3165,2165.4 C3162.8,2165.3 3160.8,2164.4 3159.5,2163.3 C3158.2,2162.2 3157.2,2160.2 3157,2158.9 C3156.8,2157.6 3157.1,2158.7 3158.3,2155.2 C3159.5,2151.7 3162.2,2140.6 3164.4,2137.7Z" fill="#231f20"/><path d="M3276.8,2137.7 C3274.5,2134.8 3271.5,2137.2 3269.4,2138 C3267.3,2138.8 3265.6,2140.4 3264.5,2142.3 C3263.4,2144.2 3262.7,2147.1 3262.6,2149.7 C3262.5,2152.3 3262.9,2155.3 3263.9,2157.7 C3264.9,2160.1 3266.8,2162.6 3268.8,2163.9 C3270.9,2165.2 3274.0,2165.5 3276.2,2165.4 C3278.3,2165.3 3280.4,2164.4 3281.7,2163.3 C3283.0,2162.2 3284.0,2160.2 3284.2,2158.9 C3284.4,2157.6 3284.2,2158.7 3283,2155.2 C3281.8,2151.7 3279.1,2140.6 3276.8,2137.7Z" fill="#231f20"/><ellipse cx="3163.8" cy="2155.2" rx="4.80591" ry="5.85336" fill="#fff"/><ellipse cx="3277.4" cy="2155.2" rx="4.80591" ry="5.85336" fill="#fff"/><ellipse cx="3162" cy="2158" rx="2.5878" ry="2.5878" fill="#231f20"/><ellipse cx="3279.3" cy="2158" rx="2.5878" ry="2.5878" fill="#231f20"/><path d="M3195.9,2175.4 C3197.9,2174.6 3204.8,2172.8 3208.2,2170.6 C3211.6,2168.4 3214.3,2165.5 3216.2,2162 C3218.0,2158.5 3219.1,2153.3 3219.3,2149.7 C3219.6,2146.1 3218.6,2142.8 3217.7,2140.5 C3216.8,2138.2 3215.0,2136.5 3213.7,2136.1 C3212.4,2135.7 3210.6,2137.7 3210,2138" fill="none" stroke="#231f20" stroke-width="2" stroke-linecap="round"/><path d="M3245.4,2175.4 C3243.3,2174.6 3236.5,2172.8 3233.1,2170.6 C3229.7,2168.4 3226.9,2165.5 3225.1,2162 C3223.2,2158.5 3222.3,2153.3 3222,2149.7 C3221.7,2146.1 3222.6,2142.8 3223.5,2140.5 C3224.4,2138.2 3226.2,2136.5 3227.5,2136.1 C3228.8,2135.7 3230.6,2137.7 3231.2,2138" fill="none" stroke="#231f20" stroke-width="2" stroke-linecap="round"/><circle cx="3208.8" cy="2139.5" r="6.16143" fill="#231f20"/><circle cx="3232.5" cy="2139.5" r="6.16143" fill="#231f20"/><text class="sf" transform="translate(3067.6,2289.2) scale(0.789,1)" font-size="85.5">MAYTONI</text><text class="sf" x="3114.6" y="2324.4" font-size="27.8" letter-spacing="2.4">CHANDELIERS</text><text transform="translate(1272.4,157) scale(0.9324,1)" font-size="226">Instruction</text>
<g fill="#231f20">
<rect x="25" y="335" width="3458" height="4.5"/>
<rect x="25" y="2449.3" width="3458" height="4.5"/>
<rect x="25" y="335" width="4.5" height="2118.8"/>
<rect x="3478.5" y="335" width="4.5" height="2118.8"/>
<rect x="2309.2" y="335" width="4.7" height="2118.8"/>
<rect x="2309.2" y="1933.2" width="1173" height="4.4"/>
<rect x="2959" y="1933.2" width="4.2" height="520"/>
</g>
<rect x="1351.5" y="485.7" width="832.6" height="346.6" fill="none" stroke="#231f20" stroke-width="5"/>
<g font-size="80">
<text transform="translate(1688.5,582) scale(0.9274,1)">Series: Climb</text>
<text transform="translate(1354.1,673) scale(0.9359,1)">Model: ARM026−06−W</text>
<text transform="translate(1767.1,764) scale(0.9304,1)">Chandelier</text>
</g>
<text transform="translate(2482,2252) scale(0.903,1)" font-size="80">6 x E14 (40w)</text>
<text transform="translate(3029.1,2395) scale(0.948,1)" font-size="58">www.maytoni.de</text>
<text x="1515" y="1254.7" font-size="55" font-weight="bold" style="fill:#e2dbd9">www.svetodom.ru</text>
</svg>
</body></html>
